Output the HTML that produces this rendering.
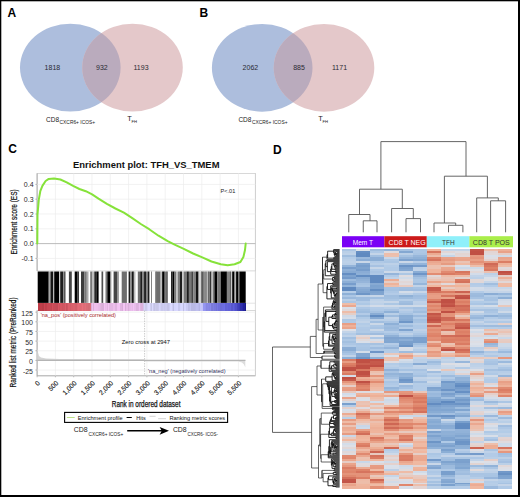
<!DOCTYPE html>
<html><head><meta charset="utf-8"><style>
html,body{margin:0;padding:0;background:#fff;}
body{width:520px;height:497px;overflow:hidden;}
svg{display:block;}
text{font-family:"Liberation Sans", sans-serif;}
</style></head><body>
<svg width="520" height="497" viewBox="0 0 520 497">
<rect x="0" y="0" width="520" height="497" fill="#fff"/>
<defs><clipPath id="cba"><ellipse cx="70.3" cy="67.6" rx="50.3" ry="43.9"/></clipPath></defs>
<ellipse cx="70.3" cy="67.6" rx="50.3" ry="43.9" fill="#adbedd"/>
<ellipse cx="132.5" cy="67.6" rx="50.3" ry="43.9" fill="#e4c8ca"/>
<ellipse cx="132.5" cy="67.6" rx="50.3" ry="43.9" fill="#baabbd" clip-path="url(#cba)"/>
<text x="52.4" y="70.1" font-size="7" text-anchor="middle" font-weight="normal" fill="#2a2a33">1818</text>
<text x="101.9" y="70.1" font-size="7" text-anchor="middle" font-weight="normal" fill="#2a2a33">932</text>
<text x="141" y="70.1" font-size="7" text-anchor="middle" font-weight="normal" fill="#2a2a33">1193</text>
<defs><clipPath id="cbb"><ellipse cx="262.2" cy="67.8" rx="50.3" ry="43.9"/></clipPath></defs>
<ellipse cx="262.2" cy="67.8" rx="50.3" ry="43.9" fill="#adbedd"/>
<ellipse cx="324" cy="67.8" rx="50.3" ry="43.9" fill="#e4c8ca"/>
<ellipse cx="324" cy="67.8" rx="50.3" ry="43.9" fill="#baabbd" clip-path="url(#cbb)"/>
<text x="250.4" y="70.3" font-size="7" text-anchor="middle" font-weight="normal" fill="#2a2a33">2062</text>
<text x="299" y="70.3" font-size="7" text-anchor="middle" font-weight="normal" fill="#2a2a33">885</text>
<text x="339.5" y="70.3" font-size="7" text-anchor="middle" font-weight="normal" fill="#2a2a33">1171</text>
<text x="46" y="121.6" font-size="7.4" text-anchor="start" font-weight="normal" fill="#222" textLength="13" lengthAdjust="spacingAndGlyphs">CD8</text>
<text x="59.6" y="123.6" font-size="4.6" text-anchor="start" font-weight="normal" fill="#222" textLength="35.5" lengthAdjust="spacingAndGlyphs">CXCR6+ ICOS+</text>
<text x="127.2" y="121" font-size="7.4" text-anchor="start" font-weight="normal" fill="#222">T</text>
<text x="131.5" y="123.2" font-size="4.2" text-anchor="start" font-weight="normal" fill="#222">FH</text>
<text x="238.4" y="121.8" font-size="7.4" text-anchor="start" font-weight="normal" fill="#222" textLength="13" lengthAdjust="spacingAndGlyphs">CD8</text>
<text x="252.0" y="123.8" font-size="4.6" text-anchor="start" font-weight="normal" fill="#222" textLength="35.5" lengthAdjust="spacingAndGlyphs">CXCR6+ ICOS+</text>
<text x="318.2" y="121.2" font-size="7.4" text-anchor="start" font-weight="normal" fill="#222">T</text>
<text x="322.5" y="123.4" font-size="4.2" text-anchor="start" font-weight="normal" fill="#222">FH</text>
<text x="7.6" y="17.3" font-size="12" text-anchor="start" font-weight="bold" fill="#000">A</text>
<text x="199.4" y="17.3" font-size="12" text-anchor="start" font-weight="bold" fill="#000">B</text>
<text x="8.2" y="153.3" font-size="12" text-anchor="start" font-weight="bold" fill="#000">C</text>
<text x="273" y="153.8" font-size="12" text-anchor="start" font-weight="bold" fill="#000">D</text>
<rect x="37.1" y="173.4" width="218.3" height="97.49999999999997" fill="none" stroke="#cfcfcf" stroke-width="0.8"/>
<rect x="37.1" y="310.5" width="218.3" height="65.30000000000001" fill="none" stroke="#cfcfcf" stroke-width="0.8"/>
<line x1="37.1" y1="173.4" x2="37.1" y2="270.9" stroke="#a0a0a0" stroke-width="0.8"/>
<line x1="37.1" y1="310.5" x2="37.1" y2="375.8" stroke="#a0a0a0" stroke-width="0.8"/>
<line x1="37.1" y1="375.8" x2="255.4" y2="375.8" stroke="#a8a8a8" stroke-width="0.8"/>
<line x1="255.4" y1="173.4" x2="255.4" y2="375.8" stroke="#cfcfcf" stroke-width="0.8"/>
<line x1="245.7" y1="303.2" x2="255.4" y2="303.2" stroke="#d8d8d8" stroke-width="0.7"/>
<line x1="55.40" y1="173.4" x2="55.40" y2="270.9" stroke="#ececec" stroke-width="0.7"/>
<line x1="55.40" y1="310.5" x2="55.40" y2="375.8" stroke="#ececec" stroke-width="0.7"/>
<line x1="73.70" y1="173.4" x2="73.70" y2="270.9" stroke="#ececec" stroke-width="0.7"/>
<line x1="73.70" y1="310.5" x2="73.70" y2="375.8" stroke="#ececec" stroke-width="0.7"/>
<line x1="92.00" y1="173.4" x2="92.00" y2="270.9" stroke="#ececec" stroke-width="0.7"/>
<line x1="92.00" y1="310.5" x2="92.00" y2="375.8" stroke="#ececec" stroke-width="0.7"/>
<line x1="110.30" y1="173.4" x2="110.30" y2="270.9" stroke="#ececec" stroke-width="0.7"/>
<line x1="110.30" y1="310.5" x2="110.30" y2="375.8" stroke="#ececec" stroke-width="0.7"/>
<line x1="128.60" y1="173.4" x2="128.60" y2="270.9" stroke="#ececec" stroke-width="0.7"/>
<line x1="128.60" y1="310.5" x2="128.60" y2="375.8" stroke="#ececec" stroke-width="0.7"/>
<line x1="146.90" y1="173.4" x2="146.90" y2="270.9" stroke="#ececec" stroke-width="0.7"/>
<line x1="146.90" y1="310.5" x2="146.90" y2="375.8" stroke="#ececec" stroke-width="0.7"/>
<line x1="165.20" y1="173.4" x2="165.20" y2="270.9" stroke="#ececec" stroke-width="0.7"/>
<line x1="165.20" y1="310.5" x2="165.20" y2="375.8" stroke="#ececec" stroke-width="0.7"/>
<line x1="183.50" y1="173.4" x2="183.50" y2="270.9" stroke="#ececec" stroke-width="0.7"/>
<line x1="183.50" y1="310.5" x2="183.50" y2="375.8" stroke="#ececec" stroke-width="0.7"/>
<line x1="201.80" y1="173.4" x2="201.80" y2="270.9" stroke="#ececec" stroke-width="0.7"/>
<line x1="201.80" y1="310.5" x2="201.80" y2="375.8" stroke="#ececec" stroke-width="0.7"/>
<line x1="220.10" y1="173.4" x2="220.10" y2="270.9" stroke="#ececec" stroke-width="0.7"/>
<line x1="220.10" y1="310.5" x2="220.10" y2="375.8" stroke="#ececec" stroke-width="0.7"/>
<line x1="238.40" y1="173.4" x2="238.40" y2="270.9" stroke="#ececec" stroke-width="0.7"/>
<line x1="238.40" y1="310.5" x2="238.40" y2="375.8" stroke="#ececec" stroke-width="0.7"/>
<line x1="37.1" y1="184.40" x2="255.4" y2="184.40" stroke="#ececec" stroke-width="0.7"/>
<line x1="37.1" y1="199.20" x2="255.4" y2="199.20" stroke="#ececec" stroke-width="0.7"/>
<line x1="37.1" y1="214.00" x2="255.4" y2="214.00" stroke="#ececec" stroke-width="0.7"/>
<line x1="37.1" y1="228.80" x2="255.4" y2="228.80" stroke="#ececec" stroke-width="0.7"/>
<line x1="37.1" y1="258.40" x2="255.4" y2="258.40" stroke="#ececec" stroke-width="0.7"/>
<line x1="37.1" y1="243.6" x2="255.4" y2="243.6" stroke="#b4b4b4" stroke-width="0.9"/>
<text x="33.6" y="186.89999999999998" font-size="7.0" text-anchor="end" font-weight="normal" fill="#2a2a2a">0.4</text>
<line x1="35.3" y1="184.40" x2="37.1" y2="184.40" stroke="#999" stroke-width="0.6"/>
<text x="33.6" y="201.7" font-size="7.0" text-anchor="end" font-weight="normal" fill="#2a2a2a">0.3</text>
<line x1="35.3" y1="199.20" x2="37.1" y2="199.20" stroke="#999" stroke-width="0.6"/>
<text x="33.6" y="216.5" font-size="7.0" text-anchor="end" font-weight="normal" fill="#2a2a2a">0.2</text>
<line x1="35.3" y1="214.00" x2="37.1" y2="214.00" stroke="#999" stroke-width="0.6"/>
<text x="33.6" y="231.29999999999998" font-size="7.0" text-anchor="end" font-weight="normal" fill="#2a2a2a">0.1</text>
<line x1="35.3" y1="228.80" x2="37.1" y2="228.80" stroke="#999" stroke-width="0.6"/>
<text x="33.6" y="246.1" font-size="7.0" text-anchor="end" font-weight="normal" fill="#2a2a2a">0.0</text>
<line x1="35.3" y1="243.60" x2="37.1" y2="243.60" stroke="#999" stroke-width="0.6"/>
<text x="33.6" y="260.9" font-size="7.0" text-anchor="end" font-weight="normal" fill="#2a2a2a">-0.1</text>
<line x1="35.3" y1="258.40" x2="37.1" y2="258.40" stroke="#999" stroke-width="0.6"/>
<line x1="37.1" y1="312.15" x2="255.4" y2="312.15" stroke="#ececec" stroke-width="0.7"/>
<line x1="37.1" y1="321.80" x2="255.4" y2="321.80" stroke="#ececec" stroke-width="0.7"/>
<line x1="37.1" y1="331.45" x2="255.4" y2="331.45" stroke="#ececec" stroke-width="0.7"/>
<line x1="37.1" y1="341.10" x2="255.4" y2="341.10" stroke="#ececec" stroke-width="0.7"/>
<line x1="37.1" y1="350.75" x2="255.4" y2="350.75" stroke="#ececec" stroke-width="0.7"/>
<line x1="37.1" y1="370.05" x2="255.4" y2="370.05" stroke="#ececec" stroke-width="0.7"/>
<text x="33.0" y="315.75" font-size="7.0" text-anchor="end" font-weight="normal" fill="#2a2a2a">125</text>
<line x1="35.3" y1="312.15" x2="37.1" y2="312.15" stroke="#999" stroke-width="0.6"/>
<text x="33.0" y="325.4" font-size="7.0" text-anchor="end" font-weight="normal" fill="#2a2a2a">100</text>
<line x1="35.3" y1="321.80" x2="37.1" y2="321.80" stroke="#999" stroke-width="0.6"/>
<text x="33.0" y="335.05" font-size="7.0" text-anchor="end" font-weight="normal" fill="#2a2a2a">75</text>
<line x1="35.3" y1="331.45" x2="37.1" y2="331.45" stroke="#999" stroke-width="0.6"/>
<text x="33.0" y="344.7" font-size="7.0" text-anchor="end" font-weight="normal" fill="#2a2a2a">50</text>
<line x1="35.3" y1="341.10" x2="37.1" y2="341.10" stroke="#999" stroke-width="0.6"/>
<text x="33.0" y="354.35" font-size="7.0" text-anchor="end" font-weight="normal" fill="#2a2a2a">25</text>
<line x1="35.3" y1="350.75" x2="37.1" y2="350.75" stroke="#999" stroke-width="0.6"/>
<text x="33.0" y="364.0" font-size="7.0" text-anchor="end" font-weight="normal" fill="#2a2a2a">0</text>
<line x1="35.3" y1="360.40" x2="37.1" y2="360.40" stroke="#999" stroke-width="0.6"/>
<text x="33.0" y="373.65" font-size="7.0" text-anchor="end" font-weight="normal" fill="#2a2a2a">-25</text>
<line x1="35.3" y1="370.05" x2="37.1" y2="370.05" stroke="#999" stroke-width="0.6"/>
<path d="M37.3,243.6 L37.5,214.4 L38.8,199.6 L40.3,191.2 L42.4,185.9 L45.6,181 L48.75,178.9 L54,178.5 L60.4,179.5 L66.7,182.3 L73.1,185.9 L79.4,189 L85.8,191.2 L92.1,194.3 L98.5,198.6 L106.9,203.8 L115.4,208.5 L123.9,212.7 L132.3,218.2 L140.8,224 L149.2,229.2 L158.5,235.7 L167.7,241.2 L174.6,244.7 L183.8,248.8 L193.1,253.5 L202.3,257.4 L211.5,261.5 L220.8,264.3 L227.7,265.2 L234.6,264.3 L240.4,262 L243.4,257 L245,250 L245.7,243.5" fill="none" stroke="#86e23a" stroke-width="2.0" stroke-linejoin="round" stroke-linecap="round"/>
<text x="235.3" y="193.0" font-size="5.6" text-anchor="end" font-weight="normal" fill="#222" textLength="14.8" lengthAdjust="spacingAndGlyphs">P&lt;.01</text>
<text x="73" y="168" font-size="9.5" text-anchor="start" font-weight="bold" fill="#111" textLength="146.5" lengthAdjust="spacingAndGlyphs">Enrichment plot: TFH_VS_TMEM</text>
<text x="16.8" y="221.9" font-size="8.2" text-anchor="middle" font-weight="normal" fill="#111" textLength="65" lengthAdjust="spacingAndGlyphs" transform="rotate(-90 16.8 221.9)" stroke="#111" stroke-width="0.2">Enrichment score (ES)</text>
<text x="16.4" y="342.4" font-size="8.2" text-anchor="middle" font-weight="normal" fill="#111" textLength="90" lengthAdjust="spacingAndGlyphs" transform="rotate(-90 16.4 342.4)" stroke="#111" stroke-width="0.2">Ranked list metric (PreRanked)</text>
<text x="40.5" y="383.6" font-size="6.7" text-anchor="end" font-weight="normal" fill="#1a1a1a" transform="rotate(-45 40.5 383.6)" stroke="#1a1a1a" stroke-width="0.15">0</text>
<line x1="37.10" y1="375.8" x2="37.10" y2="377.3" stroke="#999" stroke-width="0.6"/>
<text x="58.8" y="383.6" font-size="6.7" text-anchor="end" font-weight="normal" fill="#1a1a1a" transform="rotate(-45 58.8 383.6)" stroke="#1a1a1a" stroke-width="0.15">500</text>
<line x1="55.40" y1="375.8" x2="55.40" y2="377.3" stroke="#999" stroke-width="0.6"/>
<text x="77.1" y="383.6" font-size="6.7" text-anchor="end" font-weight="normal" fill="#1a1a1a" transform="rotate(-45 77.1 383.6)" stroke="#1a1a1a" stroke-width="0.15">1,000</text>
<line x1="73.70" y1="375.8" x2="73.70" y2="377.3" stroke="#999" stroke-width="0.6"/>
<text x="95.4" y="383.6" font-size="6.7" text-anchor="end" font-weight="normal" fill="#1a1a1a" transform="rotate(-45 95.4 383.6)" stroke="#1a1a1a" stroke-width="0.15">1,500</text>
<line x1="92.00" y1="375.8" x2="92.00" y2="377.3" stroke="#999" stroke-width="0.6"/>
<text x="113.7" y="383.6" font-size="6.7" text-anchor="end" font-weight="normal" fill="#1a1a1a" transform="rotate(-45 113.7 383.6)" stroke="#1a1a1a" stroke-width="0.15">2,000</text>
<line x1="110.30" y1="375.8" x2="110.30" y2="377.3" stroke="#999" stroke-width="0.6"/>
<text x="132.0" y="383.6" font-size="6.7" text-anchor="end" font-weight="normal" fill="#1a1a1a" transform="rotate(-45 132.0 383.6)" stroke="#1a1a1a" stroke-width="0.15">2,500</text>
<line x1="128.60" y1="375.8" x2="128.60" y2="377.3" stroke="#999" stroke-width="0.6"/>
<text x="150.3" y="383.6" font-size="6.7" text-anchor="end" font-weight="normal" fill="#1a1a1a" transform="rotate(-45 150.3 383.6)" stroke="#1a1a1a" stroke-width="0.15">3,000</text>
<line x1="146.90" y1="375.8" x2="146.90" y2="377.3" stroke="#999" stroke-width="0.6"/>
<text x="168.6" y="383.6" font-size="6.7" text-anchor="end" font-weight="normal" fill="#1a1a1a" transform="rotate(-45 168.6 383.6)" stroke="#1a1a1a" stroke-width="0.15">3,500</text>
<line x1="165.20" y1="375.8" x2="165.20" y2="377.3" stroke="#999" stroke-width="0.6"/>
<text x="186.9" y="383.6" font-size="6.7" text-anchor="end" font-weight="normal" fill="#1a1a1a" transform="rotate(-45 186.9 383.6)" stroke="#1a1a1a" stroke-width="0.15">4,000</text>
<line x1="183.50" y1="375.8" x2="183.50" y2="377.3" stroke="#999" stroke-width="0.6"/>
<text x="205.2" y="383.6" font-size="6.7" text-anchor="end" font-weight="normal" fill="#1a1a1a" transform="rotate(-45 205.2 383.6)" stroke="#1a1a1a" stroke-width="0.15">4,500</text>
<line x1="201.80" y1="375.8" x2="201.80" y2="377.3" stroke="#999" stroke-width="0.6"/>
<text x="223.5" y="383.6" font-size="6.7" text-anchor="end" font-weight="normal" fill="#1a1a1a" transform="rotate(-45 223.5 383.6)" stroke="#1a1a1a" stroke-width="0.15">5,000</text>
<line x1="220.10" y1="375.8" x2="220.10" y2="377.3" stroke="#999" stroke-width="0.6"/>
<text x="241.8" y="383.6" font-size="6.7" text-anchor="end" font-weight="normal" fill="#1a1a1a" transform="rotate(-45 241.8 383.6)" stroke="#1a1a1a" stroke-width="0.15">5,500</text>
<line x1="238.40" y1="375.8" x2="238.40" y2="377.3" stroke="#999" stroke-width="0.6"/>
<text x="146.1" y="407.1" font-size="8.6" text-anchor="middle" font-weight="normal" fill="#111" textLength="68.7" lengthAdjust="spacingAndGlyphs" stroke="#111" stroke-width="0.25">Rank in ordered dataset</text>
<rect x="37.7" y="271.5" width="11.00" height="31.40" fill="rgb(0,0,0)"/>
<rect x="48.7" y="271.5" width="1.10" height="31.40" fill="rgb(130,130,130)"/>
<rect x="49.8" y="271.5" width="0.60" height="31.40" fill="rgb(220,220,220)"/>
<rect x="50.4" y="271.5" width="2.90" height="31.40" fill="rgb(20,20,20)"/>
<rect x="54.2" y="271.5" width="4.90" height="31.40" fill="rgb(0,0,0)"/>
<rect x="59.1" y="271.5" width="1.10" height="31.40" fill="rgb(200,200,200)"/>
<rect x="60.2" y="271.5" width="2.90" height="31.40" fill="rgb(30,30,30)"/>
<rect x="63.1" y="271.5" width="1.20" height="31.40" fill="rgb(130,130,130)"/>
<rect x="64.3" y="271.5" width="1.10" height="31.40" fill="rgb(30,30,30)"/>
<rect x="68.9" y="271.5" width="2.90" height="31.40" fill="rgb(70,70,70)"/>
<rect x="74.7" y="271.5" width="2.80" height="31.40" fill="rgb(0,0,0)"/>
<rect x="77.5" y="271.5" width="1.40" height="31.40" fill="rgb(40,40,40)"/>
<rect x="81" y="271.5" width="3.50" height="31.40" fill="rgb(60,60,60)"/>
<rect x="84.5" y="271.5" width="2.30" height="31.40" fill="rgb(120,120,120)"/>
<rect x="86.8" y="271.5" width="1.70" height="31.40" fill="rgb(170,170,170)"/>
<rect x="90.2" y="271.5" width="2.30" height="31.40" fill="rgb(120,120,120)"/>
<rect x="92.5" y="271.5" width="1.80" height="31.40" fill="rgb(190,190,190)"/>
<rect x="94.3" y="271.5" width="2.60" height="31.40" fill="rgb(40,40,40)"/>
<rect x="96.9" y="271.5" width="1.70" height="31.40" fill="rgb(0,0,0)"/>
<rect x="101.5" y="271.5" width="1.70" height="31.40" fill="rgb(80,80,80)"/>
<rect x="105.5" y="271.5" width="1.80" height="31.40" fill="rgb(120,120,120)"/>
<rect x="107.3" y="271.5" width="2.90" height="31.40" fill="rgb(0,0,0)"/>
<rect x="110.2" y="271.5" width="1.10" height="31.40" fill="rgb(130,130,130)"/>
<rect x="113.6" y="271.5" width="3.50" height="31.40" fill="rgb(70,70,70)"/>
<rect x="117.1" y="271.5" width="1.70" height="31.40" fill="rgb(140,140,140)"/>
<rect x="121.7" y="271.5" width="5.20" height="31.40" fill="rgb(110,110,110)"/>
<rect x="128.6" y="271.5" width="1.70" height="31.40" fill="rgb(30,30,30)"/>
<rect x="130.3" y="271.5" width="1.80" height="31.40" fill="rgb(130,130,130)"/>
<rect x="132.1" y="271.5" width="1.70" height="31.40" fill="rgb(0,0,0)"/>
<rect x="133.8" y="271.5" width="1.70" height="31.40" fill="rgb(190,190,190)"/>
<rect x="137.8" y="271.5" width="2.40" height="31.40" fill="rgb(110,110,110)"/>
<rect x="140.2" y="271.5" width="2.30" height="31.40" fill="rgb(30,30,30)"/>
<rect x="142.5" y="271.5" width="1.70" height="31.40" fill="rgb(130,130,130)"/>
<rect x="144.2" y="271.5" width="1.70" height="31.40" fill="rgb(0,0,0)"/>
<rect x="145.9" y="271.5" width="1.80" height="31.40" fill="rgb(130,130,130)"/>
<rect x="147.7" y="271.5" width="1.70" height="31.40" fill="rgb(30,30,30)"/>
<rect x="151.1" y="271.5" width="0.90" height="31.40" fill="rgb(120,120,120)"/>
<rect x="155.5" y="271.5" width="1.10" height="31.40" fill="rgb(30,30,30)"/>
<rect x="156.6" y="271.5" width="4.10" height="31.40" fill="rgb(110,110,110)"/>
<rect x="160.7" y="271.5" width="1.10" height="31.40" fill="rgb(220,220,220)"/>
<rect x="161.8" y="271.5" width="1.20" height="31.40" fill="rgb(40,40,40)"/>
<rect x="163" y="271.5" width="1.70" height="31.40" fill="rgb(0,0,0)"/>
<rect x="164.7" y="271.5" width="1.70" height="31.40" fill="rgb(120,120,120)"/>
<rect x="166.4" y="271.5" width="1.20" height="31.40" fill="rgb(40,40,40)"/>
<rect x="171" y="271.5" width="1.80" height="31.40" fill="rgb(40,40,40)"/>
<rect x="172.8" y="271.5" width="1.70" height="31.40" fill="rgb(0,0,0)"/>
<rect x="174.5" y="271.5" width="1.70" height="31.40" fill="rgb(120,120,120)"/>
<rect x="176.2" y="271.5" width="1.80" height="31.40" fill="rgb(190,190,190)"/>
<rect x="178" y="271.5" width="1.70" height="31.40" fill="rgb(120,120,120)"/>
<rect x="179.7" y="271.5" width="2.30" height="31.40" fill="rgb(30,30,30)"/>
<rect x="182" y="271.5" width="1.70" height="31.40" fill="rgb(200,200,200)"/>
<rect x="183.7" y="271.5" width="2.90" height="31.40" fill="rgb(120,120,120)"/>
<rect x="186.6" y="271.5" width="2.30" height="31.40" fill="rgb(30,30,30)"/>
<rect x="188.9" y="271.5" width="2.30" height="31.40" fill="rgb(120,120,120)"/>
<rect x="191.2" y="271.5" width="2.30" height="31.40" fill="rgb(70,70,70)"/>
<rect x="193.5" y="271.5" width="2.30" height="31.40" fill="rgb(130,130,130)"/>
<rect x="195.8" y="271.5" width="2.40" height="31.40" fill="rgb(20,20,20)"/>
<rect x="198.2" y="271.5" width="1.10" height="31.40" fill="rgb(130,130,130)"/>
<rect x="199.3" y="271.5" width="1.70" height="31.40" fill="rgb(210,210,210)"/>
<rect x="201" y="271.5" width="0.40" height="31.40" fill="rgb(0,0,0)"/>
<rect x="201.4" y="271.5" width="2.40" height="31.40" fill="rgb(90,90,90)"/>
<rect x="203.8" y="271.5" width="2.00" height="31.40" fill="rgb(140,140,140)"/>
<rect x="205.8" y="271.5" width="0.70" height="31.40" fill="rgb(30,30,30)"/>
<rect x="207.7" y="271.5" width="1.00" height="31.40" fill="rgb(30,30,30)"/>
<rect x="208.7" y="271.5" width="1.40" height="31.40" fill="rgb(120,120,120)"/>
<rect x="210.1" y="271.5" width="1.40" height="31.40" fill="rgb(30,30,30)"/>
<rect x="211.5" y="271.5" width="1.50" height="31.40" fill="rgb(190,190,190)"/>
<rect x="213" y="271.5" width="1.40" height="31.40" fill="rgb(120,120,120)"/>
<rect x="214.4" y="271.5" width="2.90" height="31.40" fill="rgb(0,0,0)"/>
<rect x="217.3" y="271.5" width="3.40" height="31.40" fill="rgb(120,120,120)"/>
<rect x="220.7" y="271.5" width="6.20" height="31.40" fill="rgb(0,0,0)"/>
<rect x="226.9" y="271.5" width="2.90" height="31.40" fill="rgb(130,130,130)"/>
<rect x="229.8" y="271.5" width="1.00" height="31.40" fill="rgb(30,30,30)"/>
<rect x="230.8" y="271.5" width="1.40" height="31.40" fill="rgb(200,200,200)"/>
<rect x="232.2" y="271.5" width="2.40" height="31.40" fill="rgb(0,0,0)"/>
<rect x="234.6" y="271.5" width="1.50" height="31.40" fill="rgb(180,180,180)"/>
<rect x="236.1" y="271.5" width="1.90" height="31.40" fill="rgb(0,0,0)"/>
<rect x="238" y="271.5" width="1.40" height="31.40" fill="rgb(120,120,120)"/>
<rect x="239.4" y="271.5" width="6.30" height="31.40" fill="rgb(0,0,0)"/>
<g shape-rendering="crispEdges"><rect x="37.70" y="302.9" width="1.05" height="7.60" fill="rgb(192,60,72)"/><rect x="38.70" y="302.9" width="1.05" height="7.60" fill="rgb(188,60,71)"/><rect x="39.70" y="302.9" width="2.05" height="7.60" fill="rgb(192,62,74)"/><rect x="41.70" y="302.9" width="2.05" height="7.60" fill="rgb(184,61,72)"/><rect x="43.70" y="302.9" width="0.85" height="7.60" fill="rgb(205,69,82)"/><rect x="44.50" y="302.9" width="1.55" height="7.60" fill="rgb(191,65,77)"/><rect x="46.00" y="302.9" width="1.05" height="7.60" fill="rgb(191,66,78)"/><rect x="47.00" y="302.9" width="1.55" height="7.60" fill="rgb(200,71,83)"/><rect x="48.50" y="302.9" width="2.05" height="7.60" fill="rgb(200,72,84)"/><rect x="50.50" y="302.9" width="1.05" height="7.60" fill="rgb(195,71,83)"/><rect x="51.50" y="302.9" width="1.05" height="7.60" fill="rgb(212,78,91)"/><rect x="52.50" y="302.9" width="2.05" height="7.60" fill="rgb(201,75,87)"/><rect x="54.50" y="302.9" width="0.85" height="7.60" fill="rgb(209,79,91)"/><rect x="55.30" y="302.9" width="0.85" height="7.60" fill="rgb(196,75,87)"/><rect x="56.10" y="302.9" width="2.05" height="7.60" fill="rgb(194,75,87)"/><rect x="58.10" y="302.9" width="0.85" height="7.60" fill="rgb(215,84,97)"/><rect x="58.90" y="302.9" width="1.25" height="7.60" fill="rgb(206,82,94)"/><rect x="60.10" y="302.9" width="1.55" height="7.60" fill="rgb(213,86,98)"/><rect x="61.60" y="302.9" width="1.55" height="7.60" fill="rgb(206,84,96)"/><rect x="63.10" y="302.9" width="2.05" height="7.60" fill="rgb(208,86,98)"/><rect x="65.10" y="302.9" width="1.05" height="7.60" fill="rgb(220,92,105)"/><rect x="66.10" y="302.9" width="0.85" height="7.60" fill="rgb(199,84,95)"/><rect x="66.90" y="302.9" width="1.55" height="7.60" fill="rgb(205,87,99)"/><rect x="68.40" y="302.9" width="1.55" height="7.60" fill="rgb(220,95,107)"/><rect x="69.90" y="302.9" width="1.25" height="7.60" fill="rgb(212,92,104)"/><rect x="71.10" y="302.9" width="1.55" height="7.60" fill="rgb(216,96,107)"/><rect x="72.60" y="302.9" width="2.05" height="7.60" fill="rgb(218,98,109)"/><rect x="74.60" y="302.9" width="2.05" height="7.60" fill="rgb(210,96,107)"/><rect x="76.60" y="302.9" width="1.25" height="7.60" fill="rgb(222,103,115)"/><rect x="77.80" y="302.9" width="0.85" height="7.60" fill="rgb(228,106,118)"/><rect x="78.60" y="302.9" width="2.05" height="7.60" fill="rgb(223,106,117)"/><rect x="80.60" y="302.9" width="1.05" height="7.60" fill="rgb(225,108,119)"/><rect x="81.60" y="302.9" width="1.25" height="7.60" fill="rgb(233,113,124)"/><rect x="82.80" y="302.9" width="2.05" height="7.60" fill="rgb(223,109,120)"/><rect x="84.80" y="302.9" width="1.05" height="7.60" fill="rgb(226,112,123)"/><rect x="85.80" y="302.9" width="2.05" height="7.60" fill="rgb(217,109,119)"/><rect x="87.80" y="302.9" width="0.85" height="7.60" fill="rgb(212,108,117)"/><rect x="88.60" y="302.9" width="1.55" height="7.60" fill="rgb(213,109,119)"/><rect x="90.10" y="302.9" width="0.85" height="7.60" fill="rgb(223,115,125)"/><rect x="90.90" y="302.9" width="1.05" height="7.60" fill="rgb(220,175,216)"/><rect x="91.90" y="302.9" width="1.55" height="7.60" fill="rgb(241,192,237)"/><rect x="93.40" y="302.9" width="0.85" height="7.60" fill="rgb(220,175,217)"/><rect x="94.20" y="302.9" width="2.05" height="7.60" fill="rgb(240,192,237)"/><rect x="96.20" y="302.9" width="1.55" height="7.60" fill="rgb(239,191,235)"/><rect x="97.70" y="302.9" width="1.25" height="7.60" fill="rgb(234,187,231)"/><rect x="98.90" y="302.9" width="1.25" height="7.60" fill="rgb(233,186,230)"/><rect x="100.10" y="302.9" width="0.85" height="7.60" fill="rgb(227,181,224)"/><rect x="100.90" y="302.9" width="0.85" height="7.60" fill="rgb(221,177,219)"/><rect x="101.70" y="302.9" width="2.05" height="7.60" fill="rgb(219,175,217)"/><rect x="103.70" y="302.9" width="1.05" height="7.60" fill="rgb(245,196,243)"/><rect x="104.70" y="302.9" width="1.25" height="7.60" fill="rgb(235,188,233)"/><rect x="105.90" y="302.9" width="1.05" height="7.60" fill="rgb(237,190,235)"/><rect x="106.90" y="302.9" width="1.25" height="7.60" fill="rgb(227,181,225)"/><rect x="108.10" y="302.9" width="1.05" height="7.60" fill="rgb(243,195,241)"/><rect x="109.10" y="302.9" width="1.55" height="7.60" fill="rgb(228,183,226)"/><rect x="110.60" y="302.9" width="2.05" height="7.60" fill="rgb(228,183,227)"/><rect x="112.60" y="302.9" width="2.05" height="7.60" fill="rgb(237,190,235)"/><rect x="114.60" y="302.9" width="0.85" height="7.60" fill="rgb(235,188,233)"/><rect x="115.40" y="302.9" width="2.05" height="7.60" fill="rgb(225,180,224)"/><rect x="117.40" y="302.9" width="1.05" height="7.60" fill="rgb(243,195,242)"/><rect x="118.40" y="302.9" width="1.55" height="7.60" fill="rgb(244,196,244)"/><rect x="119.90" y="302.9" width="2.05" height="7.60" fill="rgb(225,181,225)"/><rect x="121.90" y="302.9" width="1.25" height="7.60" fill="rgb(217,175,217)"/><rect x="123.10" y="302.9" width="1.55" height="7.60" fill="rgb(244,197,244)"/><rect x="124.60" y="302.9" width="1.25" height="7.60" fill="rgb(217,175,217)"/><rect x="125.80" y="302.9" width="2.05" height="7.60" fill="rgb(233,188,233)"/><rect x="127.80" y="302.9" width="1.05" height="7.60" fill="rgb(218,176,218)"/><rect x="128.80" y="302.9" width="1.25" height="7.60" fill="rgb(229,185,230)"/><rect x="130.00" y="302.9" width="1.25" height="7.60" fill="rgb(233,188,234)"/><rect x="131.20" y="302.9" width="1.25" height="7.60" fill="rgb(237,191,237)"/><rect x="132.40" y="302.9" width="0.85" height="7.60" fill="rgb(232,188,233)"/><rect x="133.20" y="302.9" width="0.85" height="7.60" fill="rgb(243,196,244)"/><rect x="134.00" y="302.9" width="1.25" height="7.60" fill="rgb(233,189,234)"/><rect x="135.20" y="302.9" width="1.25" height="7.60" fill="rgb(232,188,233)"/><rect x="136.40" y="302.9" width="1.25" height="7.60" fill="rgb(221,178,222)"/><rect x="137.60" y="302.9" width="1.05" height="7.60" fill="rgb(224,181,226)"/><rect x="138.60" y="302.9" width="1.25" height="7.60" fill="rgb(239,193,241)"/><rect x="139.80" y="302.9" width="1.25" height="7.60" fill="rgb(224,181,225)"/><rect x="141.00" y="302.9" width="1.55" height="7.60" fill="rgb(218,177,220)"/><rect x="142.50" y="302.9" width="0.85" height="7.60" fill="rgb(242,196,244)"/><rect x="143.30" y="302.9" width="1.05" height="7.60" fill="rgb(213,195,233)"/><rect x="144.30" y="302.9" width="1.05" height="7.60" fill="rgb(215,213,248)"/><rect x="145.30" y="302.9" width="1.25" height="7.60" fill="rgb(204,202,235)"/><rect x="146.50" y="302.9" width="1.05" height="7.60" fill="rgb(215,213,248)"/><rect x="147.50" y="302.9" width="0.85" height="7.60" fill="rgb(200,199,231)"/><rect x="148.30" y="302.9" width="1.25" height="7.60" fill="rgb(222,220,255)"/><rect x="149.50" y="302.9" width="1.05" height="7.60" fill="rgb(208,207,241)"/><rect x="150.50" y="302.9" width="1.05" height="7.60" fill="rgb(199,198,230)"/><rect x="151.50" y="302.9" width="1.05" height="7.60" fill="rgb(219,218,254)"/><rect x="152.50" y="302.9" width="1.55" height="7.60" fill="rgb(204,202,236)"/><rect x="154.00" y="302.9" width="0.85" height="7.60" fill="rgb(197,196,229)"/><rect x="154.80" y="302.9" width="1.05" height="7.60" fill="rgb(204,203,237)"/><rect x="155.80" y="302.9" width="2.05" height="7.60" fill="rgb(201,199,233)"/><rect x="157.80" y="302.9" width="1.25" height="7.60" fill="rgb(204,203,238)"/><rect x="159.00" y="302.9" width="0.85" height="7.60" fill="rgb(216,214,252)"/><rect x="159.80" y="302.9" width="1.25" height="7.60" fill="rgb(210,209,245)"/><rect x="161.00" y="302.9" width="1.55" height="7.60" fill="rgb(202,201,236)"/><rect x="162.50" y="302.9" width="1.25" height="7.60" fill="rgb(206,205,242)"/><rect x="163.70" y="302.9" width="1.55" height="7.60" fill="rgb(202,201,236)"/><rect x="165.20" y="302.9" width="2.05" height="7.60" fill="rgb(204,203,240)"/><rect x="167.20" y="302.9" width="1.55" height="7.60" fill="rgb(198,197,232)"/><rect x="168.70" y="302.9" width="0.85" height="7.60" fill="rgb(205,205,242)"/><rect x="169.50" y="302.9" width="2.05" height="7.60" fill="rgb(218,217,255)"/><rect x="171.50" y="302.9" width="1.55" height="7.60" fill="rgb(207,206,244)"/><rect x="173.00" y="302.9" width="1.05" height="7.60" fill="rgb(193,193,229)"/><rect x="174.00" y="302.9" width="1.55" height="7.60" fill="rgb(213,213,252)"/><rect x="175.50" y="302.9" width="2.05" height="7.60" fill="rgb(216,215,255)"/><rect x="177.50" y="302.9" width="2.05" height="7.60" fill="rgb(200,200,238)"/><rect x="179.50" y="302.9" width="1.05" height="7.60" fill="rgb(212,212,253)"/><rect x="180.50" y="302.9" width="2.05" height="7.60" fill="rgb(215,215,255)"/><rect x="182.50" y="302.9" width="0.85" height="7.60" fill="rgb(211,210,251)"/><rect x="183.30" y="302.9" width="0.85" height="7.60" fill="rgb(191,191,228)"/><rect x="184.10" y="302.9" width="2.05" height="7.60" fill="rgb(213,213,254)"/><rect x="186.10" y="302.9" width="1.55" height="7.60" fill="rgb(203,203,244)"/><rect x="187.60" y="302.9" width="0.85" height="7.60" fill="rgb(199,199,241)"/><rect x="188.40" y="302.9" width="0.85" height="7.60" fill="rgb(191,191,232)"/><rect x="189.20" y="302.9" width="1.25" height="7.60" fill="rgb(192,192,234)"/><rect x="190.40" y="302.9" width="0.85" height="7.60" fill="rgb(198,198,242)"/><rect x="191.20" y="302.9" width="1.55" height="7.60" fill="rgb(185,185,228)"/><rect x="192.70" y="302.9" width="2.05" height="7.60" fill="rgb(185,185,229)"/><rect x="194.70" y="302.9" width="1.05" height="7.60" fill="rgb(187,187,233)"/><rect x="195.70" y="302.9" width="2.05" height="7.60" fill="rgb(191,191,239)"/><rect x="197.70" y="302.9" width="0.85" height="7.60" fill="rgb(187,187,235)"/><rect x="198.50" y="302.9" width="1.05" height="7.60" fill="rgb(181,181,229)"/><rect x="199.50" y="302.9" width="0.85" height="7.60" fill="rgb(181,181,230)"/><rect x="200.30" y="302.9" width="1.25" height="7.60" fill="rgb(197,197,252)"/><rect x="201.50" y="302.9" width="1.05" height="7.60" fill="rgb(194,194,248)"/><rect x="202.50" y="302.9" width="0.85" height="7.60" fill="rgb(167,167,235)"/><rect x="203.30" y="302.9" width="2.05" height="7.60" fill="rgb(150,150,241)"/><rect x="205.30" y="302.9" width="0.85" height="7.60" fill="rgb(145,145,238)"/><rect x="206.10" y="302.9" width="1.05" height="7.60" fill="rgb(135,135,224)"/><rect x="207.10" y="302.9" width="2.05" height="7.60" fill="rgb(136,136,230)"/><rect x="209.10" y="302.9" width="0.85" height="7.60" fill="rgb(133,133,228)"/><rect x="209.90" y="302.9" width="0.85" height="7.60" fill="rgb(137,137,238)"/><rect x="210.70" y="302.9" width="1.05" height="7.60" fill="rgb(123,123,216)"/><rect x="211.70" y="302.9" width="0.85" height="7.60" fill="rgb(121,121,216)"/><rect x="212.50" y="302.9" width="0.85" height="7.60" fill="rgb(132,132,237)"/><rect x="213.30" y="302.9" width="0.85" height="7.60" fill="rgb(125,125,227)"/><rect x="214.10" y="302.9" width="1.55" height="7.60" fill="rgb(120,120,221)"/><rect x="215.60" y="302.9" width="1.25" height="7.60" fill="rgb(114,114,214)"/><rect x="216.80" y="302.9" width="1.55" height="7.60" fill="rgb(119,119,229)"/><rect x="218.30" y="302.9" width="2.05" height="7.60" fill="rgb(111,111,219)"/><rect x="220.30" y="302.9" width="1.25" height="7.60" fill="rgb(107,107,215)"/><rect x="221.50" y="302.9" width="1.25" height="7.60" fill="rgb(109,109,220)"/><rect x="222.70" y="302.9" width="1.05" height="7.60" fill="rgb(109,109,223)"/><rect x="223.70" y="302.9" width="1.55" height="7.60" fill="rgb(110,110,229)"/><rect x="225.20" y="302.9" width="2.05" height="7.60" fill="rgb(99,99,211)"/><rect x="227.20" y="302.9" width="1.25" height="7.60" fill="rgb(100,100,217)"/><rect x="228.40" y="302.9" width="2.05" height="7.60" fill="rgb(96,96,214)"/><rect x="230.40" y="302.9" width="0.85" height="7.60" fill="rgb(97,97,220)"/><rect x="231.20" y="302.9" width="1.55" height="7.60" fill="rgb(88,88,204)"/><rect x="232.70" y="302.9" width="1.55" height="7.60" fill="rgb(94,94,221)"/><rect x="234.20" y="302.9" width="1.25" height="7.60" fill="rgb(88,88,211)"/><rect x="235.40" y="302.9" width="1.55" height="7.60" fill="rgb(80,80,203)"/><rect x="236.90" y="302.9" width="1.05" height="7.60" fill="rgb(69,69,188)"/><rect x="237.90" y="302.9" width="1.25" height="7.60" fill="rgb(64,64,190)"/><rect x="239.10" y="302.9" width="0.85" height="7.60" fill="rgb(58,58,184)"/><rect x="239.90" y="302.9" width="1.05" height="7.60" fill="rgb(50,50,170)"/><rect x="240.90" y="302.9" width="0.85" height="7.60" fill="rgb(49,49,175)"/><rect x="241.70" y="302.9" width="1.25" height="7.60" fill="rgb(44,44,170)"/><rect x="242.90" y="302.9" width="2.05" height="7.60" fill="rgb(36,36,157)"/><rect x="244.90" y="302.9" width="0.85" height="7.60" fill="rgb(28,28,138)"/></g>
<path d="M37.4,360.4 L37.4,346.0 L37.9,352 L39,356 L41,357.6 L46,358.4 L60,358.9 L144.5,359.3 L144.5,360.4 Z" fill="#d4d4d4"/>
<path d="M144.5,360.4 L144.5,361.4 L238,361.6 L242,362.5 L244,364.5 L245.3,367.5 L245.3,360.4 Z" fill="#dcdcdc"/>
<line x1="37.1" y1="360.4" x2="245.5" y2="360.4" stroke="#b4b4b4" stroke-width="1.4"/>
<line x1="144.6" y1="310.5" x2="144.6" y2="375.8" stroke="#b8b8b8" stroke-width="0.7" stroke-dasharray="1.5,1"/>
<text x="40.7" y="317.0" font-size="5.9" text-anchor="start" font-weight="normal" fill="#a82828" textLength="75.3" lengthAdjust="spacingAndGlyphs">'na_pos' (positively correlated)</text>
<text x="121.8" y="344.0" font-size="5.8" text-anchor="start" font-weight="normal" fill="#111" textLength="48.2" lengthAdjust="spacingAndGlyphs">Zero cross at 2947</text>
<text x="148" y="373.4" font-size="5.8" text-anchor="start" font-weight="normal" fill="#2e2e5c" textLength="77.5" lengthAdjust="spacingAndGlyphs">'na_neg' (negatively correlated)</text>
<rect x="64.6" y="412.4" width="163" height="10" fill="none" stroke="#000" stroke-width="1.1"/>
<line x1="66.9" y1="417.5" x2="74.7" y2="417.5" stroke="#b6e07a" stroke-width="0.9"/>
<text x="77.8" y="419.5" font-size="5.7" text-anchor="start" font-weight="normal" fill="#111" textLength="44.9" lengthAdjust="spacingAndGlyphs">Enrichment profile</text>
<line x1="126.6" y1="417.5" x2="131.8" y2="417.5" stroke="#000" stroke-width="1"/>
<text x="136.2" y="419.5" font-size="5.7" text-anchor="start" font-weight="normal" fill="#111" textLength="9.5" lengthAdjust="spacingAndGlyphs">Hits</text>
<line x1="149.5" y1="416.3" x2="155.6" y2="416.3" stroke="#c8c8c8" stroke-width="0.8"/>
<line x1="158.2" y1="418.7" x2="166" y2="418.7" stroke="#c8c8c8" stroke-width="0.8"/>
<text x="169.4" y="419.5" font-size="5.7" text-anchor="start" font-weight="normal" fill="#111" textLength="55.8" lengthAdjust="spacingAndGlyphs">Ranking metric scores</text>
<text x="73.8" y="432.3" font-size="7.0" text-anchor="start" font-weight="normal" fill="#222" textLength="13.9" lengthAdjust="spacingAndGlyphs">CD8</text>
<text x="88.6" y="435.8" font-size="4.6" text-anchor="start" font-weight="normal" fill="#222" textLength="34.6" lengthAdjust="spacingAndGlyphs">CXCR6+ ICOS+</text>
<line x1="127.2" y1="430.8" x2="163" y2="430.8" stroke="#000" stroke-width="1.6"/>
<path d="M159.6,427.0 L169.0,430.8 L159.6,434.7 L161.8,430.8 Z" fill="#000"/>
<text x="172.9" y="432.3" font-size="7.0" text-anchor="start" font-weight="normal" fill="#222" textLength="13.8" lengthAdjust="spacingAndGlyphs">CD8</text>
<text x="187.6" y="435.8" font-size="4.6" text-anchor="start" font-weight="normal" fill="#222" textLength="30.3" lengthAdjust="spacingAndGlyphs">CXCR6- ICOS-</text>
<path d="M380.9,189.2 V141.6 H466 V176.2" stroke="#555" stroke-width="0.9" fill="none"/>
<path d="M359.5,214.5 V189.2 H402.3 V208.5" stroke="#555" stroke-width="0.9" fill="none"/>
<path d="M348.75,232.3 V214.5 H370 V220.8" stroke="#555" stroke-width="0.9" fill="none"/>
<path d="M363.25,232.3 V220.8 H377 V232.3" stroke="#555" stroke-width="0.9" fill="none"/>
<path d="M391.6,232.3 V208.5 H413.3 V218.6" stroke="#555" stroke-width="0.9" fill="none"/>
<path d="M406,232.3 V218.6 H420.5 V232.3" stroke="#555" stroke-width="0.9" fill="none"/>
<path d="M444.4,223 V176.2 H487.4 V197.9" stroke="#555" stroke-width="0.9" fill="none"/>
<path d="M434,232.3 V223 H455.7 V225.3" stroke="#555" stroke-width="0.9" fill="none"/>
<path d="M448.5,232.3 V225.3 H462.9 V232.3" stroke="#555" stroke-width="0.9" fill="none"/>
<path d="M476.7,232.3 V197.9 H498.3 V200.8" stroke="#555" stroke-width="0.9" fill="none"/>
<path d="M490.6,232.3 V200.8 H505.6 V232.3" stroke="#555" stroke-width="0.9" fill="none"/>
<rect x="342.0" y="236.2" width="42.40" height="11.10" fill="#7a00f5"/>
<rect x="384.4" y="236.2" width="42.40" height="11.10" fill="#cc1a1a"/>
<rect x="426.8" y="236.2" width="42.60" height="11.10" fill="#8ff0fa"/>
<rect x="469.4" y="236.2" width="43.60" height="11.10" fill="#aaee4a"/>
<text x="362.9" y="245.3" font-size="6.8" text-anchor="middle" font-weight="normal" fill="#fff" textLength="20.4" lengthAdjust="spacingAndGlyphs">Mem T</text>
<text x="407.1" y="245.3" font-size="6.8" text-anchor="middle" font-weight="normal" fill="#fff" textLength="37.0" lengthAdjust="spacingAndGlyphs">CD8 T NEG</text>
<text x="448.3" y="245.3" font-size="6.8" text-anchor="middle" font-weight="normal" fill="#333" textLength="12.6" lengthAdjust="spacingAndGlyphs">TFH</text>
<text x="491.3" y="245.3" font-size="6.8" text-anchor="middle" font-weight="normal" fill="#333" textLength="37.0" lengthAdjust="spacingAndGlyphs">CD8 T POS</text>
<g shape-rendering="crispEdges"><rect x="341.90" y="249.20" width="14.48" height="2.29" fill="#aac5e4"/><rect x="356.08" y="249.20" width="14.48" height="2.29" fill="#dce1e8"/><rect x="370.26" y="249.20" width="14.48" height="2.29" fill="#9fbdde"/><rect x="384.44" y="249.20" width="14.48" height="2.29" fill="#94b5da"/><rect x="398.62" y="249.20" width="14.48" height="2.29" fill="#a5c1e1"/><rect x="412.80" y="249.20" width="14.48" height="2.29" fill="#acc6e4"/><rect x="426.98" y="249.20" width="14.48" height="2.29" fill="#efb69e"/><rect x="441.16" y="249.20" width="14.48" height="2.29" fill="#c2d4e8"/><rect x="455.34" y="249.20" width="14.48" height="2.29" fill="#c1d3e8"/><rect x="469.52" y="249.20" width="14.48" height="2.29" fill="#c25447"/><rect x="483.70" y="249.20" width="14.48" height="2.29" fill="#edbeaa"/><rect x="497.88" y="249.20" width="14.48" height="2.29" fill="#edaf97"/><rect x="341.90" y="251.19" width="14.48" height="2.29" fill="#bacfe7"/><rect x="356.08" y="251.19" width="14.48" height="2.29" fill="#658ec3"/><rect x="370.26" y="251.19" width="14.48" height="2.29" fill="#afc9e6"/><rect x="384.44" y="251.19" width="14.48" height="2.29" fill="#dfdbdf"/><rect x="398.62" y="251.19" width="14.48" height="2.29" fill="#84a8d2"/><rect x="412.80" y="251.19" width="14.48" height="2.29" fill="#adc7e5"/><rect x="426.98" y="251.19" width="14.48" height="2.29" fill="#d7765f"/><rect x="441.16" y="251.19" width="14.48" height="2.29" fill="#e1d6d6"/><rect x="455.34" y="251.19" width="14.48" height="2.29" fill="#dedce0"/><rect x="469.52" y="251.19" width="14.48" height="2.29" fill="#c05044"/><rect x="483.70" y="251.19" width="14.48" height="2.29" fill="#e2d5d4"/><rect x="497.88" y="251.19" width="14.48" height="2.29" fill="#e9a289"/><rect x="341.90" y="253.19" width="14.48" height="2.29" fill="#bfd2e8"/><rect x="356.08" y="253.19" width="14.48" height="2.29" fill="#608ac0"/><rect x="370.26" y="253.19" width="14.48" height="2.29" fill="#c4d5e8"/><rect x="384.44" y="253.19" width="14.48" height="2.29" fill="#edbeab"/><rect x="398.62" y="253.19" width="14.48" height="2.29" fill="#bacfe7"/><rect x="412.80" y="253.19" width="14.48" height="2.29" fill="#aac5e3"/><rect x="426.98" y="253.19" width="14.48" height="2.29" fill="#ecab92"/><rect x="441.16" y="253.19" width="14.48" height="2.29" fill="#dce0e7"/><rect x="455.34" y="253.19" width="14.48" height="2.29" fill="#e2d5d3"/><rect x="469.52" y="253.19" width="14.48" height="2.29" fill="#c05044"/><rect x="483.70" y="253.19" width="14.48" height="2.29" fill="#e1d8d8"/><rect x="497.88" y="253.19" width="14.48" height="2.29" fill="#e6cdc6"/><rect x="341.90" y="255.18" width="14.48" height="2.29" fill="#a1bedf"/><rect x="356.08" y="255.18" width="14.48" height="2.29" fill="#608ac0"/><rect x="370.26" y="255.18" width="14.48" height="2.29" fill="#a3c0e0"/><rect x="384.44" y="255.18" width="14.48" height="2.29" fill="#ecc0ae"/><rect x="398.62" y="255.18" width="14.48" height="2.29" fill="#a6c2e1"/><rect x="412.80" y="255.18" width="14.48" height="2.29" fill="#98b7db"/><rect x="426.98" y="255.18" width="14.48" height="2.29" fill="#edbdaa"/><rect x="441.16" y="255.18" width="14.48" height="2.29" fill="#c6d6e8"/><rect x="455.34" y="255.18" width="14.48" height="2.29" fill="#e1d7d8"/><rect x="469.52" y="255.18" width="14.48" height="2.29" fill="#e69980"/><rect x="483.70" y="255.18" width="14.48" height="2.29" fill="#d8dfe9"/><rect x="497.88" y="255.18" width="14.48" height="2.29" fill="#d0dbe8"/><rect x="341.90" y="257.18" width="14.48" height="2.29" fill="#b4cce7"/><rect x="356.08" y="257.18" width="14.48" height="2.29" fill="#9bb9dc"/><rect x="370.26" y="257.18" width="14.48" height="2.29" fill="#8caed6"/><rect x="384.44" y="257.18" width="14.48" height="2.29" fill="#cad7e8"/><rect x="398.62" y="257.18" width="14.48" height="2.29" fill="#96b5da"/><rect x="412.80" y="257.18" width="14.48" height="2.29" fill="#8fb1d7"/><rect x="426.98" y="257.18" width="14.48" height="2.29" fill="#de8269"/><rect x="441.16" y="257.18" width="14.48" height="2.29" fill="#e8a188"/><rect x="455.34" y="257.18" width="14.48" height="2.29" fill="#eaa68d"/><rect x="469.52" y="257.18" width="14.48" height="2.29" fill="#e4947b"/><rect x="483.70" y="257.18" width="14.48" height="2.29" fill="#dedde1"/><rect x="497.88" y="257.18" width="14.48" height="2.29" fill="#e9a48c"/><rect x="341.90" y="259.17" width="14.48" height="2.29" fill="#bacfe7"/><rect x="356.08" y="259.17" width="14.48" height="2.29" fill="#8caed6"/><rect x="370.26" y="259.17" width="14.48" height="2.29" fill="#8baed5"/><rect x="384.44" y="259.17" width="14.48" height="2.29" fill="#afc9e6"/><rect x="398.62" y="259.17" width="14.48" height="2.29" fill="#7ea3cf"/><rect x="412.80" y="259.17" width="14.48" height="2.29" fill="#84a8d2"/><rect x="426.98" y="259.17" width="14.48" height="2.29" fill="#d6745e"/><rect x="441.16" y="259.17" width="14.48" height="2.29" fill="#e69b82"/><rect x="455.34" y="259.17" width="14.48" height="2.29" fill="#e9a38a"/><rect x="469.52" y="259.17" width="14.48" height="2.29" fill="#e9a289"/><rect x="483.70" y="259.17" width="14.48" height="2.29" fill="#e3d3d1"/><rect x="497.88" y="259.17" width="14.48" height="2.29" fill="#eaa78f"/><rect x="341.90" y="261.16" width="14.48" height="2.29" fill="#bdd1e8"/><rect x="356.08" y="261.16" width="14.48" height="2.29" fill="#c9d7e8"/><rect x="370.26" y="261.16" width="14.48" height="2.29" fill="#b0c9e6"/><rect x="384.44" y="261.16" width="14.48" height="2.29" fill="#abc6e4"/><rect x="398.62" y="261.16" width="14.48" height="2.29" fill="#cbd8e8"/><rect x="412.80" y="261.16" width="14.48" height="2.29" fill="#b7cde7"/><rect x="426.98" y="261.16" width="14.48" height="2.29" fill="#eaa78f"/><rect x="441.16" y="261.16" width="14.48" height="2.29" fill="#eba990"/><rect x="455.34" y="261.16" width="14.48" height="2.29" fill="#eac3b4"/><rect x="469.52" y="261.16" width="14.48" height="2.29" fill="#e39178"/><rect x="483.70" y="261.16" width="14.48" height="2.29" fill="#e69b82"/><rect x="497.88" y="261.16" width="14.48" height="2.29" fill="#db7e65"/><rect x="341.90" y="263.16" width="14.48" height="2.29" fill="#bacfe7"/><rect x="356.08" y="263.16" width="14.48" height="2.29" fill="#81a6d1"/><rect x="370.26" y="263.16" width="14.48" height="2.29" fill="#b8cee7"/><rect x="384.44" y="263.16" width="14.48" height="2.29" fill="#bdd1e8"/><rect x="398.62" y="263.16" width="14.48" height="2.29" fill="#9ab9dc"/><rect x="412.80" y="263.16" width="14.48" height="2.29" fill="#95b5da"/><rect x="426.98" y="263.16" width="14.48" height="2.29" fill="#edae96"/><rect x="441.16" y="263.16" width="14.48" height="2.29" fill="#e69b81"/><rect x="455.34" y="263.16" width="14.48" height="2.29" fill="#efbaa3"/><rect x="469.52" y="263.16" width="14.48" height="2.29" fill="#e9a38a"/><rect x="483.70" y="263.16" width="14.48" height="2.29" fill="#d06a57"/><rect x="497.88" y="263.16" width="14.48" height="2.29" fill="#eeb39b"/><rect x="341.90" y="265.15" width="14.48" height="2.29" fill="#94b4d9"/><rect x="356.08" y="265.15" width="14.48" height="2.29" fill="#789ecc"/><rect x="370.26" y="265.15" width="14.48" height="2.29" fill="#a7c2e2"/><rect x="384.44" y="265.15" width="14.48" height="2.29" fill="#b4cce7"/><rect x="398.62" y="265.15" width="14.48" height="2.29" fill="#6c94c6"/><rect x="412.80" y="265.15" width="14.48" height="2.29" fill="#769ccb"/><rect x="426.98" y="265.15" width="14.48" height="2.29" fill="#ecc1af"/><rect x="441.16" y="265.15" width="14.48" height="2.29" fill="#e7cac0"/><rect x="455.34" y="265.15" width="14.48" height="2.29" fill="#dae0e9"/><rect x="469.52" y="265.15" width="14.48" height="2.29" fill="#edbfac"/><rect x="483.70" y="265.15" width="14.48" height="2.29" fill="#d6755f"/><rect x="497.88" y="265.15" width="14.48" height="2.29" fill="#eebda8"/><rect x="341.90" y="267.15" width="14.48" height="2.29" fill="#799ecc"/><rect x="356.08" y="267.15" width="14.48" height="2.29" fill="#7fa4cf"/><rect x="370.26" y="267.15" width="14.48" height="2.29" fill="#c7d6e8"/><rect x="384.44" y="267.15" width="14.48" height="2.29" fill="#b1cae6"/><rect x="398.62" y="267.15" width="14.48" height="2.29" fill="#7ea3cf"/><rect x="412.80" y="267.15" width="14.48" height="2.29" fill="#bcd0e7"/><rect x="426.98" y="267.15" width="14.48" height="2.29" fill="#ecc1b0"/><rect x="441.16" y="267.15" width="14.48" height="2.29" fill="#eaa78e"/><rect x="455.34" y="267.15" width="14.48" height="2.29" fill="#cbd8e8"/><rect x="469.52" y="267.15" width="14.48" height="2.29" fill="#cedae8"/><rect x="483.70" y="267.15" width="14.48" height="2.29" fill="#de8268"/><rect x="497.88" y="267.15" width="14.48" height="2.29" fill="#e0d9db"/><rect x="341.90" y="269.14" width="14.48" height="2.29" fill="#8fb0d7"/><rect x="356.08" y="269.14" width="14.48" height="2.29" fill="#779dcb"/><rect x="370.26" y="269.14" width="14.48" height="2.29" fill="#afc9e6"/><rect x="384.44" y="269.14" width="14.48" height="2.29" fill="#b1cae6"/><rect x="398.62" y="269.14" width="14.48" height="2.29" fill="#84a8d2"/><rect x="412.80" y="269.14" width="14.48" height="2.29" fill="#bfd2e8"/><rect x="426.98" y="269.14" width="14.48" height="2.29" fill="#efb59d"/><rect x="441.16" y="269.14" width="14.48" height="2.29" fill="#e9a48c"/><rect x="455.34" y="269.14" width="14.48" height="2.29" fill="#dfdadd"/><rect x="469.52" y="269.14" width="14.48" height="2.29" fill="#dddfe5"/><rect x="483.70" y="269.14" width="14.48" height="2.29" fill="#d97962"/><rect x="497.88" y="269.14" width="14.48" height="2.29" fill="#e1d6d6"/><rect x="341.90" y="271.13" width="14.48" height="2.29" fill="#87aad3"/><rect x="356.08" y="271.13" width="14.48" height="2.29" fill="#8aacd5"/><rect x="370.26" y="271.13" width="14.48" height="2.29" fill="#a9c4e3"/><rect x="384.44" y="271.13" width="14.48" height="2.29" fill="#cdd9e8"/><rect x="398.62" y="271.13" width="14.48" height="2.29" fill="#cbd8e8"/><rect x="412.80" y="271.13" width="14.48" height="2.29" fill="#8aadd5"/><rect x="426.98" y="271.13" width="14.48" height="2.29" fill="#efb59d"/><rect x="441.16" y="271.13" width="14.48" height="2.29" fill="#e18a71"/><rect x="455.34" y="271.13" width="14.48" height="2.29" fill="#d7765f"/><rect x="469.52" y="271.13" width="14.48" height="2.29" fill="#e1d7d7"/><rect x="483.70" y="271.13" width="14.48" height="2.29" fill="#ecc0af"/><rect x="497.88" y="271.13" width="14.48" height="2.29" fill="#c05044"/><rect x="341.90" y="273.13" width="14.48" height="2.29" fill="#658ec3"/><rect x="356.08" y="273.13" width="14.48" height="2.29" fill="#8eb0d7"/><rect x="370.26" y="273.13" width="14.48" height="2.29" fill="#adc7e5"/><rect x="384.44" y="273.13" width="14.48" height="2.29" fill="#95b5da"/><rect x="398.62" y="273.13" width="14.48" height="2.29" fill="#acc7e4"/><rect x="412.80" y="273.13" width="14.48" height="2.29" fill="#6e95c7"/><rect x="426.98" y="273.13" width="14.48" height="2.29" fill="#e28d73"/><rect x="441.16" y="273.13" width="14.48" height="2.29" fill="#da7b63"/><rect x="455.34" y="273.13" width="14.48" height="2.29" fill="#de8369"/><rect x="469.52" y="273.13" width="14.48" height="2.29" fill="#d3dce9"/><rect x="483.70" y="273.13" width="14.48" height="2.29" fill="#bcd0e7"/><rect x="497.88" y="273.13" width="14.48" height="2.29" fill="#c65a4b"/><rect x="341.90" y="275.12" width="14.48" height="2.29" fill="#7ea3cf"/><rect x="356.08" y="275.12" width="14.48" height="2.29" fill="#628cc1"/><rect x="370.26" y="275.12" width="14.48" height="2.29" fill="#608ac0"/><rect x="384.44" y="275.12" width="14.48" height="2.29" fill="#b2cbe7"/><rect x="398.62" y="275.12" width="14.48" height="2.29" fill="#dedce0"/><rect x="412.80" y="275.12" width="14.48" height="2.29" fill="#93b3d9"/><rect x="426.98" y="275.12" width="14.48" height="2.29" fill="#e1d8d8"/><rect x="441.16" y="275.12" width="14.48" height="2.29" fill="#eebca7"/><rect x="455.34" y="275.12" width="14.48" height="2.29" fill="#eebca8"/><rect x="469.52" y="275.12" width="14.48" height="2.29" fill="#c2d3e8"/><rect x="483.70" y="275.12" width="14.48" height="2.29" fill="#c5d5e8"/><rect x="497.88" y="275.12" width="14.48" height="2.29" fill="#e5cec7"/><rect x="341.90" y="277.12" width="14.48" height="2.29" fill="#749aca"/><rect x="356.08" y="277.12" width="14.48" height="2.29" fill="#88abd4"/><rect x="370.26" y="277.12" width="14.48" height="2.29" fill="#608ac0"/><rect x="384.44" y="277.12" width="14.48" height="2.29" fill="#bfd2e8"/><rect x="398.62" y="277.12" width="14.48" height="2.29" fill="#d0dbe8"/><rect x="412.80" y="277.12" width="14.48" height="2.29" fill="#a4c1e1"/><rect x="426.98" y="277.12" width="14.48" height="2.29" fill="#e5cec7"/><rect x="441.16" y="277.12" width="14.48" height="2.29" fill="#eac4b6"/><rect x="455.34" y="277.12" width="14.48" height="2.29" fill="#e3d2ce"/><rect x="469.52" y="277.12" width="14.48" height="2.29" fill="#bcd0e7"/><rect x="483.70" y="277.12" width="14.48" height="2.29" fill="#d9e0e9"/><rect x="497.88" y="277.12" width="14.48" height="2.29" fill="#edb098"/><rect x="341.90" y="279.11" width="14.48" height="2.29" fill="#9ebcde"/><rect x="356.08" y="279.11" width="14.48" height="2.29" fill="#90b1d7"/><rect x="370.26" y="279.11" width="14.48" height="2.29" fill="#608ac0"/><rect x="384.44" y="279.11" width="14.48" height="2.29" fill="#ecad94"/><rect x="398.62" y="279.11" width="14.48" height="2.29" fill="#dedee3"/><rect x="412.80" y="279.11" width="14.48" height="2.29" fill="#acc7e4"/><rect x="426.98" y="279.11" width="14.48" height="2.29" fill="#eac4b5"/><rect x="441.16" y="279.11" width="14.48" height="2.29" fill="#ebc1b1"/><rect x="455.34" y="279.11" width="14.48" height="2.29" fill="#d97961"/><rect x="469.52" y="279.11" width="14.48" height="2.29" fill="#e1d8d8"/><rect x="483.70" y="279.11" width="14.48" height="2.29" fill="#dddfe5"/><rect x="497.88" y="279.11" width="14.48" height="2.29" fill="#e8c9be"/><rect x="341.90" y="281.10" width="14.48" height="2.29" fill="#8dafd6"/><rect x="356.08" y="281.10" width="14.48" height="2.29" fill="#96b5da"/><rect x="370.26" y="281.10" width="14.48" height="2.29" fill="#608ac0"/><rect x="384.44" y="281.10" width="14.48" height="2.29" fill="#e6cdc5"/><rect x="398.62" y="281.10" width="14.48" height="2.29" fill="#e1d7d7"/><rect x="412.80" y="281.10" width="14.48" height="2.29" fill="#abc6e4"/><rect x="426.98" y="281.10" width="14.48" height="2.29" fill="#e9a289"/><rect x="441.16" y="281.10" width="14.48" height="2.29" fill="#eeb199"/><rect x="455.34" y="281.10" width="14.48" height="2.29" fill="#d4725c"/><rect x="469.52" y="281.10" width="14.48" height="2.29" fill="#e1d7d7"/><rect x="483.70" y="281.10" width="14.48" height="2.29" fill="#c5d5e8"/><rect x="497.88" y="281.10" width="14.48" height="2.29" fill="#e1d7d7"/><rect x="341.90" y="283.10" width="14.48" height="2.29" fill="#779dcc"/><rect x="356.08" y="283.10" width="14.48" height="2.29" fill="#a6c2e1"/><rect x="370.26" y="283.10" width="14.48" height="2.29" fill="#87aad3"/><rect x="384.44" y="283.10" width="14.48" height="2.29" fill="#eeb39a"/><rect x="398.62" y="283.10" width="14.48" height="2.29" fill="#dfdbdf"/><rect x="412.80" y="283.10" width="14.48" height="2.29" fill="#96b6da"/><rect x="426.98" y="283.10" width="14.48" height="2.29" fill="#eac5b7"/><rect x="441.16" y="283.10" width="14.48" height="2.29" fill="#e0d9db"/><rect x="455.34" y="283.10" width="14.48" height="2.29" fill="#ecbfad"/><rect x="469.52" y="283.10" width="14.48" height="2.29" fill="#b3cbe7"/><rect x="483.70" y="283.10" width="14.48" height="2.29" fill="#a1bedf"/><rect x="497.88" y="283.10" width="14.48" height="2.29" fill="#eebba6"/><rect x="341.90" y="285.09" width="14.48" height="2.29" fill="#93b4d9"/><rect x="356.08" y="285.09" width="14.48" height="2.29" fill="#aac5e3"/><rect x="370.26" y="285.09" width="14.48" height="2.29" fill="#7da3cf"/><rect x="384.44" y="285.09" width="14.48" height="2.29" fill="#edbfac"/><rect x="398.62" y="285.09" width="14.48" height="2.29" fill="#e7cbc1"/><rect x="412.80" y="285.09" width="14.48" height="2.29" fill="#c1d3e8"/><rect x="426.98" y="285.09" width="14.48" height="2.29" fill="#f0b79f"/><rect x="441.16" y="285.09" width="14.48" height="2.29" fill="#eeb29a"/><rect x="455.34" y="285.09" width="14.48" height="2.29" fill="#efb49b"/><rect x="469.52" y="285.09" width="14.48" height="2.29" fill="#b7cde7"/><rect x="483.70" y="285.09" width="14.48" height="2.29" fill="#b2cbe7"/><rect x="497.88" y="285.09" width="14.48" height="2.29" fill="#efbaa3"/><rect x="341.90" y="287.09" width="14.48" height="2.29" fill="#608ac0"/><rect x="356.08" y="287.09" width="14.48" height="2.29" fill="#8daed6"/><rect x="370.26" y="287.09" width="14.48" height="2.29" fill="#7fa4d0"/><rect x="384.44" y="287.09" width="14.48" height="2.29" fill="#a6c2e2"/><rect x="398.62" y="287.09" width="14.48" height="2.29" fill="#a3bfe0"/><rect x="412.80" y="287.09" width="14.48" height="2.29" fill="#a6c2e2"/><rect x="426.98" y="287.09" width="14.48" height="2.29" fill="#c5594a"/><rect x="441.16" y="287.09" width="14.48" height="2.29" fill="#e7cbc1"/><rect x="455.34" y="287.09" width="14.48" height="2.29" fill="#ecc1b0"/><rect x="469.52" y="287.09" width="14.48" height="2.29" fill="#d3dce9"/><rect x="483.70" y="287.09" width="14.48" height="2.29" fill="#c8d6e8"/><rect x="497.88" y="287.09" width="14.48" height="2.29" fill="#c7d6e8"/><rect x="341.90" y="289.08" width="14.48" height="2.29" fill="#608ac0"/><rect x="356.08" y="289.08" width="14.48" height="2.29" fill="#85a9d3"/><rect x="370.26" y="289.08" width="14.48" height="2.29" fill="#648ec2"/><rect x="384.44" y="289.08" width="14.48" height="2.29" fill="#a4c1e1"/><rect x="398.62" y="289.08" width="14.48" height="2.29" fill="#a0bddf"/><rect x="412.80" y="289.08" width="14.48" height="2.29" fill="#a0bddf"/><rect x="426.98" y="289.08" width="14.48" height="2.29" fill="#c65a4b"/><rect x="441.16" y="289.08" width="14.48" height="2.29" fill="#eeb39b"/><rect x="455.34" y="289.08" width="14.48" height="2.29" fill="#ecc0ae"/><rect x="469.52" y="289.08" width="14.48" height="2.29" fill="#d1dbe8"/><rect x="483.70" y="289.08" width="14.48" height="2.29" fill="#ccd8e8"/><rect x="497.88" y="289.08" width="14.48" height="2.29" fill="#d1dbe8"/><rect x="341.90" y="291.07" width="14.48" height="2.29" fill="#b6cde7"/><rect x="356.08" y="291.07" width="14.48" height="2.29" fill="#80a4d0"/><rect x="370.26" y="291.07" width="14.48" height="2.29" fill="#7ea3cf"/><rect x="384.44" y="291.07" width="14.48" height="2.29" fill="#adc7e5"/><rect x="398.62" y="291.07" width="14.48" height="2.29" fill="#d4dde9"/><rect x="412.80" y="291.07" width="14.48" height="2.29" fill="#c7d6e8"/><rect x="426.98" y="291.07" width="14.48" height="2.29" fill="#d5735d"/><rect x="441.16" y="291.07" width="14.48" height="2.29" fill="#da7b63"/><rect x="455.34" y="291.07" width="14.48" height="2.29" fill="#cc6452"/><rect x="469.52" y="291.07" width="14.48" height="2.29" fill="#b3cbe7"/><rect x="483.70" y="291.07" width="14.48" height="2.29" fill="#c3d4e8"/><rect x="497.88" y="291.07" width="14.48" height="2.29" fill="#c4d4e8"/><rect x="341.90" y="293.07" width="14.48" height="2.29" fill="#8eb0d7"/><rect x="356.08" y="293.07" width="14.48" height="2.29" fill="#6e96c7"/><rect x="370.26" y="293.07" width="14.48" height="2.29" fill="#81a5d0"/><rect x="384.44" y="293.07" width="14.48" height="2.29" fill="#b3cbe7"/><rect x="398.62" y="293.07" width="14.48" height="2.29" fill="#bfd2e8"/><rect x="412.80" y="293.07" width="14.48" height="2.29" fill="#b0c9e6"/><rect x="426.98" y="293.07" width="14.48" height="2.29" fill="#e69a81"/><rect x="441.16" y="293.07" width="14.48" height="2.29" fill="#e69a81"/><rect x="455.34" y="293.07" width="14.48" height="2.29" fill="#e79d84"/><rect x="469.52" y="293.07" width="14.48" height="2.29" fill="#9ebcde"/><rect x="483.70" y="293.07" width="14.48" height="2.29" fill="#8badd5"/><rect x="497.88" y="293.07" width="14.48" height="2.29" fill="#95b5da"/><rect x="341.90" y="295.06" width="14.48" height="2.29" fill="#acc6e4"/><rect x="356.08" y="295.06" width="14.48" height="2.29" fill="#bfd2e8"/><rect x="370.26" y="295.06" width="14.48" height="2.29" fill="#c7d6e8"/><rect x="384.44" y="295.06" width="14.48" height="2.29" fill="#a1bedf"/><rect x="398.62" y="295.06" width="14.48" height="2.29" fill="#8fb1d7"/><rect x="412.80" y="295.06" width="14.48" height="2.29" fill="#a0bddf"/><rect x="426.98" y="295.06" width="14.48" height="2.29" fill="#e89f86"/><rect x="441.16" y="295.06" width="14.48" height="2.29" fill="#d5745e"/><rect x="455.34" y="295.06" width="14.48" height="2.29" fill="#c35648"/><rect x="469.52" y="295.06" width="14.48" height="2.29" fill="#9cbadd"/><rect x="483.70" y="295.06" width="14.48" height="2.29" fill="#b2cbe7"/><rect x="497.88" y="295.06" width="14.48" height="2.29" fill="#acc7e4"/><rect x="341.90" y="297.06" width="14.48" height="2.29" fill="#9bb9dc"/><rect x="356.08" y="297.06" width="14.48" height="2.29" fill="#9ebcde"/><rect x="370.26" y="297.06" width="14.48" height="2.29" fill="#a2bfe0"/><rect x="384.44" y="297.06" width="14.48" height="2.29" fill="#a3c0e0"/><rect x="398.62" y="297.06" width="14.48" height="2.29" fill="#9dbbdd"/><rect x="412.80" y="297.06" width="14.48" height="2.29" fill="#a4c0e1"/><rect x="426.98" y="297.06" width="14.48" height="2.29" fill="#e79e85"/><rect x="441.16" y="297.06" width="14.48" height="2.29" fill="#e9a38a"/><rect x="455.34" y="297.06" width="14.48" height="2.29" fill="#c05044"/><rect x="469.52" y="297.06" width="14.48" height="2.29" fill="#a6c2e2"/><rect x="483.70" y="297.06" width="14.48" height="2.29" fill="#a7c3e2"/><rect x="497.88" y="297.06" width="14.48" height="2.29" fill="#8dafd6"/><rect x="341.90" y="299.05" width="14.48" height="2.29" fill="#bacfe7"/><rect x="356.08" y="299.05" width="14.48" height="2.29" fill="#a0bddf"/><rect x="370.26" y="299.05" width="14.48" height="2.29" fill="#bdd1e8"/><rect x="384.44" y="299.05" width="14.48" height="2.29" fill="#abc6e4"/><rect x="398.62" y="299.05" width="14.48" height="2.29" fill="#b5cde7"/><rect x="412.80" y="299.05" width="14.48" height="2.29" fill="#afc8e5"/><rect x="426.98" y="299.05" width="14.48" height="2.29" fill="#dd8167"/><rect x="441.16" y="299.05" width="14.48" height="2.29" fill="#c05044"/><rect x="455.34" y="299.05" width="14.48" height="2.29" fill="#e18a70"/><rect x="469.52" y="299.05" width="14.48" height="2.29" fill="#c3d4e8"/><rect x="483.70" y="299.05" width="14.48" height="2.29" fill="#a6c2e2"/><rect x="497.88" y="299.05" width="14.48" height="2.29" fill="#d0dae8"/><rect x="341.90" y="301.04" width="14.48" height="2.29" fill="#abc6e4"/><rect x="356.08" y="301.04" width="14.48" height="2.29" fill="#b4cce7"/><rect x="370.26" y="301.04" width="14.48" height="2.29" fill="#c3d4e8"/><rect x="384.44" y="301.04" width="14.48" height="2.29" fill="#c7d6e8"/><rect x="398.62" y="301.04" width="14.48" height="2.29" fill="#a2bfe0"/><rect x="412.80" y="301.04" width="14.48" height="2.29" fill="#bfd2e8"/><rect x="426.98" y="301.04" width="14.48" height="2.29" fill="#c9604f"/><rect x="441.16" y="301.04" width="14.48" height="2.29" fill="#c05044"/><rect x="455.34" y="301.04" width="14.48" height="2.29" fill="#db7e65"/><rect x="469.52" y="301.04" width="14.48" height="2.29" fill="#b1cbe7"/><rect x="483.70" y="301.04" width="14.48" height="2.29" fill="#b5cde7"/><rect x="497.88" y="301.04" width="14.48" height="2.29" fill="#d5dde9"/><rect x="341.90" y="303.04" width="14.48" height="2.29" fill="#eebda8"/><rect x="356.08" y="303.04" width="14.48" height="2.29" fill="#adc8e5"/><rect x="370.26" y="303.04" width="14.48" height="2.29" fill="#bdd1e8"/><rect x="384.44" y="303.04" width="14.48" height="2.29" fill="#acc7e4"/><rect x="398.62" y="303.04" width="14.48" height="2.29" fill="#9dbbdd"/><rect x="412.80" y="303.04" width="14.48" height="2.29" fill="#bcd0e7"/><rect x="426.98" y="303.04" width="14.48" height="2.29" fill="#e4957c"/><rect x="441.16" y="303.04" width="14.48" height="2.29" fill="#c6594b"/><rect x="455.34" y="303.04" width="14.48" height="2.29" fill="#e0876d"/><rect x="469.52" y="303.04" width="14.48" height="2.29" fill="#abc6e4"/><rect x="483.70" y="303.04" width="14.48" height="2.29" fill="#a2bfe0"/><rect x="497.88" y="303.04" width="14.48" height="2.29" fill="#d7dee9"/><rect x="341.90" y="305.03" width="14.48" height="2.29" fill="#eaa78f"/><rect x="356.08" y="305.03" width="14.48" height="2.29" fill="#c5d5e8"/><rect x="370.26" y="305.03" width="14.48" height="2.29" fill="#d3dce9"/><rect x="384.44" y="305.03" width="14.48" height="2.29" fill="#cfdae8"/><rect x="398.62" y="305.03" width="14.48" height="2.29" fill="#cfdae8"/><rect x="412.80" y="305.03" width="14.48" height="2.29" fill="#d0dbe8"/><rect x="426.98" y="305.03" width="14.48" height="2.29" fill="#df866c"/><rect x="441.16" y="305.03" width="14.48" height="2.29" fill="#c05044"/><rect x="455.34" y="305.03" width="14.48" height="2.29" fill="#cf6855"/><rect x="469.52" y="305.03" width="14.48" height="2.29" fill="#ccd9e8"/><rect x="483.70" y="305.03" width="14.48" height="2.29" fill="#d5dee9"/><rect x="497.88" y="305.03" width="14.48" height="2.29" fill="#e8c8bc"/><rect x="341.90" y="307.03" width="14.48" height="2.29" fill="#dae0e9"/><rect x="356.08" y="307.03" width="14.48" height="2.29" fill="#adc7e5"/><rect x="370.26" y="307.03" width="14.48" height="2.29" fill="#b3cbe7"/><rect x="384.44" y="307.03" width="14.48" height="2.29" fill="#b8cee7"/><rect x="398.62" y="307.03" width="14.48" height="2.29" fill="#abc6e4"/><rect x="412.80" y="307.03" width="14.48" height="2.29" fill="#a5c1e1"/><rect x="426.98" y="307.03" width="14.48" height="2.29" fill="#e39278"/><rect x="441.16" y="307.03" width="14.48" height="2.29" fill="#d6755f"/><rect x="455.34" y="307.03" width="14.48" height="2.29" fill="#d5735d"/><rect x="469.52" y="307.03" width="14.48" height="2.29" fill="#bbd0e7"/><rect x="483.70" y="307.03" width="14.48" height="2.29" fill="#bacfe7"/><rect x="497.88" y="307.03" width="14.48" height="2.29" fill="#bacfe7"/><rect x="341.90" y="309.02" width="14.48" height="2.29" fill="#e0d9db"/><rect x="356.08" y="309.02" width="14.48" height="2.29" fill="#a4c1e1"/><rect x="370.26" y="309.02" width="14.48" height="2.29" fill="#afc9e6"/><rect x="384.44" y="309.02" width="14.48" height="2.29" fill="#a9c4e3"/><rect x="398.62" y="309.02" width="14.48" height="2.29" fill="#bbcfe7"/><rect x="412.80" y="309.02" width="14.48" height="2.29" fill="#abc5e4"/><rect x="426.98" y="309.02" width="14.48" height="2.29" fill="#df846a"/><rect x="441.16" y="309.02" width="14.48" height="2.29" fill="#db7c64"/><rect x="455.34" y="309.02" width="14.48" height="2.29" fill="#d36f5a"/><rect x="469.52" y="309.02" width="14.48" height="2.29" fill="#a8c3e2"/><rect x="483.70" y="309.02" width="14.48" height="2.29" fill="#a6c2e1"/><rect x="497.88" y="309.02" width="14.48" height="2.29" fill="#bcd0e7"/><rect x="341.90" y="311.01" width="14.48" height="2.29" fill="#eebda9"/><rect x="356.08" y="311.01" width="14.48" height="2.29" fill="#9fbddf"/><rect x="370.26" y="311.01" width="14.48" height="2.29" fill="#a5c1e1"/><rect x="384.44" y="311.01" width="14.48" height="2.29" fill="#8fb1d7"/><rect x="398.62" y="311.01" width="14.48" height="2.29" fill="#b0c9e6"/><rect x="412.80" y="311.01" width="14.48" height="2.29" fill="#a0bedf"/><rect x="426.98" y="311.01" width="14.48" height="2.29" fill="#e79d84"/><rect x="441.16" y="311.01" width="14.48" height="2.29" fill="#c05044"/><rect x="455.34" y="311.01" width="14.48" height="2.29" fill="#df846a"/><rect x="469.52" y="311.01" width="14.48" height="2.29" fill="#d1dbe8"/><rect x="483.70" y="311.01" width="14.48" height="2.29" fill="#acc6e4"/><rect x="497.88" y="311.01" width="14.48" height="2.29" fill="#cedae8"/><rect x="341.90" y="313.01" width="14.48" height="2.29" fill="#e5cec6"/><rect x="356.08" y="313.01" width="14.48" height="2.29" fill="#b3cbe7"/><rect x="370.26" y="313.01" width="14.48" height="2.29" fill="#8badd5"/><rect x="384.44" y="313.01" width="14.48" height="2.29" fill="#b9cfe7"/><rect x="398.62" y="313.01" width="14.48" height="2.29" fill="#a7c3e2"/><rect x="412.80" y="313.01" width="14.48" height="2.29" fill="#b5cce7"/><rect x="426.98" y="313.01" width="14.48" height="2.29" fill="#c45648"/><rect x="441.16" y="313.01" width="14.48" height="2.29" fill="#e4947a"/><rect x="455.34" y="313.01" width="14.48" height="2.29" fill="#ebaa91"/><rect x="469.52" y="313.01" width="14.48" height="2.29" fill="#bbd0e7"/><rect x="483.70" y="313.01" width="14.48" height="2.29" fill="#b4cce7"/><rect x="497.88" y="313.01" width="14.48" height="2.29" fill="#a7c3e2"/><rect x="341.90" y="315.00" width="14.48" height="2.29" fill="#cfdae8"/><rect x="356.08" y="315.00" width="14.48" height="2.29" fill="#9cbbdd"/><rect x="370.26" y="315.00" width="14.48" height="2.29" fill="#638dc2"/><rect x="384.44" y="315.00" width="14.48" height="2.29" fill="#9dbbdd"/><rect x="398.62" y="315.00" width="14.48" height="2.29" fill="#8aadd5"/><rect x="412.80" y="315.00" width="14.48" height="2.29" fill="#9dbbde"/><rect x="426.98" y="315.00" width="14.48" height="2.29" fill="#cc6452"/><rect x="441.16" y="315.00" width="14.48" height="2.29" fill="#e4947b"/><rect x="455.34" y="315.00" width="14.48" height="2.29" fill="#e8c8bc"/><rect x="469.52" y="315.00" width="14.48" height="2.29" fill="#a0bddf"/><rect x="483.70" y="315.00" width="14.48" height="2.29" fill="#8fb0d7"/><rect x="497.88" y="315.00" width="14.48" height="2.29" fill="#99b8db"/><rect x="341.90" y="317.00" width="14.48" height="2.29" fill="#d5dde9"/><rect x="356.08" y="317.00" width="14.48" height="2.29" fill="#b0cae6"/><rect x="370.26" y="317.00" width="14.48" height="2.29" fill="#87aad3"/><rect x="384.44" y="317.00" width="14.48" height="2.29" fill="#c1d3e8"/><rect x="398.62" y="317.00" width="14.48" height="2.29" fill="#8caed6"/><rect x="412.80" y="317.00" width="14.48" height="2.29" fill="#b2cbe7"/><rect x="426.98" y="317.00" width="14.48" height="2.29" fill="#c5584a"/><rect x="441.16" y="317.00" width="14.48" height="2.29" fill="#ce6855"/><rect x="455.34" y="317.00" width="14.48" height="2.29" fill="#edb098"/><rect x="469.52" y="317.00" width="14.48" height="2.29" fill="#98b7db"/><rect x="483.70" y="317.00" width="14.48" height="2.29" fill="#b2cbe7"/><rect x="497.88" y="317.00" width="14.48" height="2.29" fill="#a6c2e2"/><rect x="341.90" y="318.99" width="14.48" height="2.29" fill="#aec8e5"/><rect x="356.08" y="318.99" width="14.48" height="2.29" fill="#bacfe7"/><rect x="370.26" y="318.99" width="14.48" height="2.29" fill="#bacfe7"/><rect x="384.44" y="318.99" width="14.48" height="2.29" fill="#bacfe7"/><rect x="398.62" y="318.99" width="14.48" height="2.29" fill="#87aad3"/><rect x="412.80" y="318.99" width="14.48" height="2.29" fill="#a4c1e1"/><rect x="426.98" y="318.99" width="14.48" height="2.29" fill="#c05044"/><rect x="441.16" y="318.99" width="14.48" height="2.29" fill="#cf6956"/><rect x="455.34" y="318.99" width="14.48" height="2.29" fill="#d87861"/><rect x="469.52" y="318.99" width="14.48" height="2.29" fill="#afc9e6"/><rect x="483.70" y="318.99" width="14.48" height="2.29" fill="#bed1e8"/><rect x="497.88" y="318.99" width="14.48" height="2.29" fill="#c2d3e8"/><rect x="341.90" y="320.98" width="14.48" height="2.29" fill="#b0cae6"/><rect x="356.08" y="320.98" width="14.48" height="2.29" fill="#c1d3e8"/><rect x="370.26" y="320.98" width="14.48" height="2.29" fill="#a2bfe0"/><rect x="384.44" y="320.98" width="14.48" height="2.29" fill="#a9c4e3"/><rect x="398.62" y="320.98" width="14.48" height="2.29" fill="#6f97c8"/><rect x="412.80" y="320.98" width="14.48" height="2.29" fill="#a7c3e2"/><rect x="426.98" y="320.98" width="14.48" height="2.29" fill="#c75c4d"/><rect x="441.16" y="320.98" width="14.48" height="2.29" fill="#e49379"/><rect x="455.34" y="320.98" width="14.48" height="2.29" fill="#e28f75"/><rect x="469.52" y="320.98" width="14.48" height="2.29" fill="#c6d5e8"/><rect x="483.70" y="320.98" width="14.48" height="2.29" fill="#aec8e5"/><rect x="497.88" y="320.98" width="14.48" height="2.29" fill="#afc9e6"/><rect x="341.90" y="322.98" width="14.48" height="2.29" fill="#e89f86"/><rect x="356.08" y="322.98" width="14.48" height="2.29" fill="#b2cbe7"/><rect x="370.26" y="322.98" width="14.48" height="2.29" fill="#cbd8e8"/><rect x="384.44" y="322.98" width="14.48" height="2.29" fill="#8eb0d7"/><rect x="398.62" y="322.98" width="14.48" height="2.29" fill="#afc9e6"/><rect x="412.80" y="322.98" width="14.48" height="2.29" fill="#b8cee7"/><rect x="426.98" y="322.98" width="14.48" height="2.29" fill="#eaa78e"/><rect x="441.16" y="322.98" width="14.48" height="2.29" fill="#dd8067"/><rect x="455.34" y="322.98" width="14.48" height="2.29" fill="#cf6856"/><rect x="469.52" y="322.98" width="14.48" height="2.29" fill="#bacfe7"/><rect x="483.70" y="322.98" width="14.48" height="2.29" fill="#c6d5e8"/><rect x="497.88" y="322.98" width="14.48" height="2.29" fill="#e4d1cd"/><rect x="341.90" y="324.97" width="14.48" height="2.29" fill="#eeb199"/><rect x="356.08" y="324.97" width="14.48" height="2.29" fill="#b7cee7"/><rect x="370.26" y="324.97" width="14.48" height="2.29" fill="#adc7e5"/><rect x="384.44" y="324.97" width="14.48" height="2.29" fill="#a0bddf"/><rect x="398.62" y="324.97" width="14.48" height="2.29" fill="#9ebcde"/><rect x="412.80" y="324.97" width="14.48" height="2.29" fill="#afc9e6"/><rect x="426.98" y="324.97" width="14.48" height="2.29" fill="#ce6755"/><rect x="441.16" y="324.97" width="14.48" height="2.29" fill="#e39077"/><rect x="455.34" y="324.97" width="14.48" height="2.29" fill="#cb6251"/><rect x="469.52" y="324.97" width="14.48" height="2.29" fill="#a3bfe0"/><rect x="483.70" y="324.97" width="14.48" height="2.29" fill="#9ebcde"/><rect x="497.88" y="324.97" width="14.48" height="2.29" fill="#9fbdde"/><rect x="341.90" y="326.97" width="14.48" height="2.29" fill="#eaa58c"/><rect x="356.08" y="326.97" width="14.48" height="2.29" fill="#b0c9e6"/><rect x="370.26" y="326.97" width="14.48" height="2.29" fill="#a9c4e3"/><rect x="384.44" y="326.97" width="14.48" height="2.29" fill="#9bbadd"/><rect x="398.62" y="326.97" width="14.48" height="2.29" fill="#b3cbe7"/><rect x="412.80" y="326.97" width="14.48" height="2.29" fill="#b0c9e6"/><rect x="426.98" y="326.97" width="14.48" height="2.29" fill="#e5977e"/><rect x="441.16" y="326.97" width="14.48" height="2.29" fill="#e4957c"/><rect x="455.34" y="326.97" width="14.48" height="2.29" fill="#c25346"/><rect x="469.52" y="326.97" width="14.48" height="2.29" fill="#bcd0e7"/><rect x="483.70" y="326.97" width="14.48" height="2.29" fill="#b7cee7"/><rect x="497.88" y="326.97" width="14.48" height="2.29" fill="#b3cbe7"/><rect x="341.90" y="328.96" width="14.48" height="2.29" fill="#dce0e8"/><rect x="356.08" y="328.96" width="14.48" height="2.29" fill="#afc8e5"/><rect x="370.26" y="328.96" width="14.48" height="2.29" fill="#c9d7e8"/><rect x="384.44" y="328.96" width="14.48" height="2.29" fill="#a0bddf"/><rect x="398.62" y="328.96" width="14.48" height="2.29" fill="#7ea3cf"/><rect x="412.80" y="328.96" width="14.48" height="2.29" fill="#bed1e8"/><rect x="426.98" y="328.96" width="14.48" height="2.29" fill="#e18a70"/><rect x="441.16" y="328.96" width="14.48" height="2.29" fill="#d4725c"/><rect x="455.34" y="328.96" width="14.48" height="2.29" fill="#e0876d"/><rect x="469.52" y="328.96" width="14.48" height="2.29" fill="#dbe0e9"/><rect x="483.70" y="328.96" width="14.48" height="2.29" fill="#edbfad"/><rect x="497.88" y="328.96" width="14.48" height="2.29" fill="#e7cbc1"/><rect x="341.90" y="330.95" width="14.48" height="2.29" fill="#c3d4e8"/><rect x="356.08" y="330.95" width="14.48" height="2.29" fill="#b0cae6"/><rect x="370.26" y="330.95" width="14.48" height="2.29" fill="#b0c9e6"/><rect x="384.44" y="330.95" width="14.48" height="2.29" fill="#b4cce7"/><rect x="398.62" y="330.95" width="14.48" height="2.29" fill="#b0c9e6"/><rect x="412.80" y="330.95" width="14.48" height="2.29" fill="#b5cde7"/><rect x="426.98" y="330.95" width="14.48" height="2.29" fill="#e39278"/><rect x="441.16" y="330.95" width="14.48" height="2.29" fill="#eac3b4"/><rect x="455.34" y="330.95" width="14.48" height="2.29" fill="#dc7f66"/><rect x="469.52" y="330.95" width="14.48" height="2.29" fill="#cfdae8"/><rect x="483.70" y="330.95" width="14.48" height="2.29" fill="#e4d0cb"/><rect x="497.88" y="330.95" width="14.48" height="2.29" fill="#eac3b4"/><rect x="341.90" y="332.95" width="14.48" height="2.29" fill="#b4cce7"/><rect x="356.08" y="332.95" width="14.48" height="2.29" fill="#a3c0e0"/><rect x="370.26" y="332.95" width="14.48" height="2.29" fill="#9fbcde"/><rect x="384.44" y="332.95" width="14.48" height="2.29" fill="#a8c4e3"/><rect x="398.62" y="332.95" width="14.48" height="2.29" fill="#bfd2e8"/><rect x="412.80" y="332.95" width="14.48" height="2.29" fill="#acc6e4"/><rect x="426.98" y="332.95" width="14.48" height="2.29" fill="#df866c"/><rect x="441.16" y="332.95" width="14.48" height="2.29" fill="#eebda9"/><rect x="455.34" y="332.95" width="14.48" height="2.29" fill="#df846a"/><rect x="469.52" y="332.95" width="14.48" height="2.29" fill="#dfdbdf"/><rect x="483.70" y="332.95" width="14.48" height="2.29" fill="#eba991"/><rect x="497.88" y="332.95" width="14.48" height="2.29" fill="#e4d0ca"/><rect x="341.90" y="334.94" width="14.48" height="2.29" fill="#bfd2e8"/><rect x="356.08" y="334.94" width="14.48" height="2.29" fill="#e0d8da"/><rect x="370.26" y="334.94" width="14.48" height="2.29" fill="#dbe0e9"/><rect x="384.44" y="334.94" width="14.48" height="2.29" fill="#90b1d7"/><rect x="398.62" y="334.94" width="14.48" height="2.29" fill="#abc6e4"/><rect x="412.80" y="334.94" width="14.48" height="2.29" fill="#9ebcde"/><rect x="426.98" y="334.94" width="14.48" height="2.29" fill="#de8168"/><rect x="441.16" y="334.94" width="14.48" height="2.29" fill="#d16c58"/><rect x="455.34" y="334.94" width="14.48" height="2.29" fill="#cf6956"/><rect x="469.52" y="334.94" width="14.48" height="2.29" fill="#e1d6d6"/><rect x="483.70" y="334.94" width="14.48" height="2.29" fill="#cdd9e8"/><rect x="497.88" y="334.94" width="14.48" height="2.29" fill="#e0d9da"/><rect x="341.90" y="336.94" width="14.48" height="2.29" fill="#a2bfe0"/><rect x="356.08" y="336.94" width="14.48" height="2.29" fill="#e5cec7"/><rect x="370.26" y="336.94" width="14.48" height="2.29" fill="#adc7e5"/><rect x="384.44" y="336.94" width="14.48" height="2.29" fill="#7fa3cf"/><rect x="398.62" y="336.94" width="14.48" height="2.29" fill="#7fa4d0"/><rect x="412.80" y="336.94" width="14.48" height="2.29" fill="#7ba0cd"/><rect x="426.98" y="336.94" width="14.48" height="2.29" fill="#e39077"/><rect x="441.16" y="336.94" width="14.48" height="2.29" fill="#de8369"/><rect x="455.34" y="336.94" width="14.48" height="2.29" fill="#dd8066"/><rect x="469.52" y="336.94" width="14.48" height="2.29" fill="#d4dde9"/><rect x="483.70" y="336.94" width="14.48" height="2.29" fill="#d9e0e9"/><rect x="497.88" y="336.94" width="14.48" height="2.29" fill="#cad8e8"/><rect x="341.90" y="338.93" width="14.48" height="2.29" fill="#aec8e5"/><rect x="356.08" y="338.93" width="14.48" height="2.29" fill="#dfdadc"/><rect x="370.26" y="338.93" width="14.48" height="2.29" fill="#d6dee9"/><rect x="384.44" y="338.93" width="14.48" height="2.29" fill="#83a7d1"/><rect x="398.62" y="338.93" width="14.48" height="2.29" fill="#8caed6"/><rect x="412.80" y="338.93" width="14.48" height="2.29" fill="#7ca1ce"/><rect x="426.98" y="338.93" width="14.48" height="2.29" fill="#e18c73"/><rect x="441.16" y="338.93" width="14.48" height="2.29" fill="#db7d64"/><rect x="455.34" y="338.93" width="14.48" height="2.29" fill="#db7d65"/><rect x="469.52" y="338.93" width="14.48" height="2.29" fill="#d8dfe9"/><rect x="483.70" y="338.93" width="14.48" height="2.29" fill="#e69a81"/><rect x="497.88" y="338.93" width="14.48" height="2.29" fill="#e6ccc4"/><rect x="341.90" y="340.92" width="14.48" height="2.29" fill="#a3c0e0"/><rect x="356.08" y="340.92" width="14.48" height="2.29" fill="#d9dfe9"/><rect x="370.26" y="340.92" width="14.48" height="2.29" fill="#e1d7d8"/><rect x="384.44" y="340.92" width="14.48" height="2.29" fill="#81a6d1"/><rect x="398.62" y="340.92" width="14.48" height="2.29" fill="#7aa0cd"/><rect x="412.80" y="340.92" width="14.48" height="2.29" fill="#7aa0cd"/><rect x="426.98" y="340.92" width="14.48" height="2.29" fill="#edbeab"/><rect x="441.16" y="340.92" width="14.48" height="2.29" fill="#dc7f65"/><rect x="455.34" y="340.92" width="14.48" height="2.29" fill="#e0886e"/><rect x="469.52" y="340.92" width="14.48" height="2.29" fill="#dddee4"/><rect x="483.70" y="340.92" width="14.48" height="2.29" fill="#e18a71"/><rect x="497.88" y="340.92" width="14.48" height="2.29" fill="#e7cac0"/><rect x="341.90" y="342.92" width="14.48" height="2.29" fill="#acc6e4"/><rect x="356.08" y="342.92" width="14.48" height="2.29" fill="#a9c4e3"/><rect x="370.26" y="342.92" width="14.48" height="2.29" fill="#a6c2e1"/><rect x="384.44" y="342.92" width="14.48" height="2.29" fill="#b5cce7"/><rect x="398.62" y="342.92" width="14.48" height="2.29" fill="#789ecc"/><rect x="412.80" y="342.92" width="14.48" height="2.29" fill="#a3c0e0"/><rect x="426.98" y="342.92" width="14.48" height="2.29" fill="#e4947b"/><rect x="441.16" y="342.92" width="14.48" height="2.29" fill="#ebc3b3"/><rect x="455.34" y="342.92" width="14.48" height="2.29" fill="#da7b63"/><rect x="469.52" y="342.92" width="14.48" height="2.29" fill="#dce1e9"/><rect x="483.70" y="342.92" width="14.48" height="2.29" fill="#96b6da"/><rect x="497.88" y="342.92" width="14.48" height="2.29" fill="#cdd9e8"/><rect x="341.90" y="344.91" width="14.48" height="2.29" fill="#b4cce7"/><rect x="356.08" y="344.91" width="14.48" height="2.29" fill="#adc7e5"/><rect x="370.26" y="344.91" width="14.48" height="2.29" fill="#b5cde7"/><rect x="384.44" y="344.91" width="14.48" height="2.29" fill="#a9c4e3"/><rect x="398.62" y="344.91" width="14.48" height="2.29" fill="#6a93c5"/><rect x="412.80" y="344.91" width="14.48" height="2.29" fill="#b0c9e6"/><rect x="426.98" y="344.91" width="14.48" height="2.29" fill="#e0886e"/><rect x="441.16" y="344.91" width="14.48" height="2.29" fill="#efb9a2"/><rect x="455.34" y="344.91" width="14.48" height="2.29" fill="#e89f86"/><rect x="469.52" y="344.91" width="14.48" height="2.29" fill="#d6dee9"/><rect x="483.70" y="344.91" width="14.48" height="2.29" fill="#a1bedf"/><rect x="497.88" y="344.91" width="14.48" height="2.29" fill="#cdd9e8"/><rect x="341.90" y="346.91" width="14.48" height="2.29" fill="#8caed6"/><rect x="356.08" y="346.91" width="14.48" height="2.29" fill="#aac5e3"/><rect x="370.26" y="346.91" width="14.48" height="2.29" fill="#a0bddf"/><rect x="384.44" y="346.91" width="14.48" height="2.29" fill="#96b5da"/><rect x="398.62" y="346.91" width="14.48" height="2.29" fill="#d9dfe9"/><rect x="412.80" y="346.91" width="14.48" height="2.29" fill="#c2d4e8"/><rect x="426.98" y="346.91" width="14.48" height="2.29" fill="#efb59d"/><rect x="441.16" y="346.91" width="14.48" height="2.29" fill="#d16c58"/><rect x="455.34" y="346.91" width="14.48" height="2.29" fill="#e18b71"/><rect x="469.52" y="346.91" width="14.48" height="2.29" fill="#bacfe7"/><rect x="483.70" y="346.91" width="14.48" height="2.29" fill="#e7cbc1"/><rect x="497.88" y="346.91" width="14.48" height="2.29" fill="#c3d4e8"/><rect x="341.90" y="348.90" width="14.48" height="2.29" fill="#8aadd5"/><rect x="356.08" y="348.90" width="14.48" height="2.29" fill="#a8c3e2"/><rect x="370.26" y="348.90" width="14.48" height="2.29" fill="#b0c9e6"/><rect x="384.44" y="348.90" width="14.48" height="2.29" fill="#b1cbe7"/><rect x="398.62" y="348.90" width="14.48" height="2.29" fill="#d6dee9"/><rect x="412.80" y="348.90" width="14.48" height="2.29" fill="#b6cde7"/><rect x="426.98" y="348.90" width="14.48" height="2.29" fill="#efb9a2"/><rect x="441.16" y="348.90" width="14.48" height="2.29" fill="#c05044"/><rect x="455.34" y="348.90" width="14.48" height="2.29" fill="#d06a57"/><rect x="469.52" y="348.90" width="14.48" height="2.29" fill="#bed1e8"/><rect x="483.70" y="348.90" width="14.48" height="2.29" fill="#e0d9db"/><rect x="497.88" y="348.90" width="14.48" height="2.29" fill="#b3cbe7"/><rect x="341.90" y="350.89" width="14.48" height="2.29" fill="#a1bedf"/><rect x="356.08" y="350.89" width="14.48" height="2.29" fill="#d4dde9"/><rect x="370.26" y="350.89" width="14.48" height="2.29" fill="#6e95c7"/><rect x="384.44" y="350.89" width="14.48" height="2.29" fill="#b3cbe7"/><rect x="398.62" y="350.89" width="14.48" height="2.29" fill="#9ebcde"/><rect x="412.80" y="350.89" width="14.48" height="2.29" fill="#a7c3e2"/><rect x="426.98" y="350.89" width="14.48" height="2.29" fill="#e69980"/><rect x="441.16" y="350.89" width="14.48" height="2.29" fill="#e2d4d2"/><rect x="455.34" y="350.89" width="14.48" height="2.29" fill="#d7765f"/><rect x="469.52" y="350.89" width="14.48" height="2.29" fill="#94b4d9"/><rect x="483.70" y="350.89" width="14.48" height="2.29" fill="#aec8e5"/><rect x="497.88" y="350.89" width="14.48" height="2.29" fill="#9bbadd"/><rect x="341.90" y="352.89" width="14.48" height="2.29" fill="#aac5e4"/><rect x="356.08" y="352.89" width="14.48" height="2.29" fill="#82a6d1"/><rect x="370.26" y="352.89" width="14.48" height="2.29" fill="#bfd2e8"/><rect x="384.44" y="352.89" width="14.48" height="2.29" fill="#e8c8bd"/><rect x="398.62" y="352.89" width="14.48" height="2.29" fill="#ecbfad"/><rect x="412.80" y="352.89" width="14.48" height="2.29" fill="#dddee4"/><rect x="426.98" y="352.89" width="14.48" height="2.29" fill="#eaa68e"/><rect x="441.16" y="352.89" width="14.48" height="2.29" fill="#eebda8"/><rect x="455.34" y="352.89" width="14.48" height="2.29" fill="#ebaa91"/><rect x="469.52" y="352.89" width="14.48" height="2.29" fill="#abc5e4"/><rect x="483.70" y="352.89" width="14.48" height="2.29" fill="#bcd0e7"/><rect x="497.88" y="352.89" width="14.48" height="2.29" fill="#bacfe7"/><rect x="341.90" y="354.88" width="14.48" height="2.29" fill="#c1d3e8"/><rect x="356.08" y="354.88" width="14.48" height="2.29" fill="#82a6d1"/><rect x="370.26" y="354.88" width="14.48" height="2.29" fill="#c5d5e8"/><rect x="384.44" y="354.88" width="14.48" height="2.29" fill="#dae0e9"/><rect x="398.62" y="354.88" width="14.48" height="2.29" fill="#e79e85"/><rect x="412.80" y="354.88" width="14.48" height="2.29" fill="#eac5b7"/><rect x="426.98" y="354.88" width="14.48" height="2.29" fill="#e8a188"/><rect x="441.16" y="354.88" width="14.48" height="2.29" fill="#eeb29a"/><rect x="455.34" y="354.88" width="14.48" height="2.29" fill="#e5987e"/><rect x="469.52" y="354.88" width="14.48" height="2.29" fill="#bfd2e8"/><rect x="483.70" y="354.88" width="14.48" height="2.29" fill="#aec8e5"/><rect x="497.88" y="354.88" width="14.48" height="2.29" fill="#b9cfe7"/><rect x="341.90" y="356.88" width="14.48" height="2.29" fill="#8eb0d7"/><rect x="356.08" y="356.88" width="14.48" height="2.29" fill="#6c94c6"/><rect x="370.26" y="356.88" width="14.48" height="2.29" fill="#8eb0d7"/><rect x="384.44" y="356.88" width="14.48" height="2.29" fill="#edbfac"/><rect x="398.62" y="356.88" width="14.48" height="2.29" fill="#edaf97"/><rect x="412.80" y="356.88" width="14.48" height="2.29" fill="#c3d4e8"/><rect x="426.98" y="356.88" width="14.48" height="2.29" fill="#e3d2ce"/><rect x="441.16" y="356.88" width="14.48" height="2.29" fill="#bdd1e8"/><rect x="455.34" y="356.88" width="14.48" height="2.29" fill="#d0dbe8"/><rect x="469.52" y="356.88" width="14.48" height="2.29" fill="#e9c6b9"/><rect x="483.70" y="356.88" width="14.48" height="2.29" fill="#e6ccc3"/><rect x="497.88" y="356.88" width="14.48" height="2.29" fill="#e5987e"/><rect x="341.90" y="358.87" width="14.48" height="2.29" fill="#d97a62"/><rect x="356.08" y="358.87" width="14.48" height="2.29" fill="#c05044"/><rect x="370.26" y="358.87" width="14.48" height="2.29" fill="#c05044"/><rect x="384.44" y="358.87" width="14.48" height="2.29" fill="#ebc2b2"/><rect x="398.62" y="358.87" width="14.48" height="2.29" fill="#d4dde9"/><rect x="412.80" y="358.87" width="14.48" height="2.29" fill="#bbd0e7"/><rect x="426.98" y="358.87" width="14.48" height="2.29" fill="#b6cde7"/><rect x="441.16" y="358.87" width="14.48" height="2.29" fill="#c5d5e8"/><rect x="455.34" y="358.87" width="14.48" height="2.29" fill="#cfdae8"/><rect x="469.52" y="358.87" width="14.48" height="2.29" fill="#e0d9da"/><rect x="483.70" y="358.87" width="14.48" height="2.29" fill="#afc9e6"/><rect x="497.88" y="358.87" width="14.48" height="2.29" fill="#bfd2e8"/><rect x="341.90" y="360.86" width="14.48" height="2.29" fill="#e79d84"/><rect x="356.08" y="360.86" width="14.48" height="2.29" fill="#c05044"/><rect x="370.26" y="360.86" width="14.48" height="2.29" fill="#c65a4c"/><rect x="384.44" y="360.86" width="14.48" height="2.29" fill="#dfdce0"/><rect x="398.62" y="360.86" width="14.48" height="2.29" fill="#cad8e8"/><rect x="412.80" y="360.86" width="14.48" height="2.29" fill="#bcd0e7"/><rect x="426.98" y="360.86" width="14.48" height="2.29" fill="#9dbbdd"/><rect x="441.16" y="360.86" width="14.48" height="2.29" fill="#bcd0e7"/><rect x="455.34" y="360.86" width="14.48" height="2.29" fill="#98b7db"/><rect x="469.52" y="360.86" width="14.48" height="2.29" fill="#e2d4d1"/><rect x="483.70" y="360.86" width="14.48" height="2.29" fill="#aac5e3"/><rect x="497.88" y="360.86" width="14.48" height="2.29" fill="#9bbadd"/><rect x="341.90" y="362.86" width="14.48" height="2.29" fill="#dd8066"/><rect x="356.08" y="362.86" width="14.48" height="2.29" fill="#ca6050"/><rect x="370.26" y="362.86" width="14.48" height="2.29" fill="#c6594b"/><rect x="384.44" y="362.86" width="14.48" height="2.29" fill="#b3cce7"/><rect x="398.62" y="362.86" width="14.48" height="2.29" fill="#adc8e5"/><rect x="412.80" y="362.86" width="14.48" height="2.29" fill="#88abd4"/><rect x="426.98" y="362.86" width="14.48" height="2.29" fill="#aac5e3"/><rect x="441.16" y="362.86" width="14.48" height="2.29" fill="#dddee4"/><rect x="455.34" y="362.86" width="14.48" height="2.29" fill="#dde0e7"/><rect x="469.52" y="362.86" width="14.48" height="2.29" fill="#bcd0e7"/><rect x="483.70" y="362.86" width="14.48" height="2.29" fill="#a7c2e2"/><rect x="497.88" y="362.86" width="14.48" height="2.29" fill="#cedae8"/><rect x="341.90" y="364.85" width="14.48" height="2.29" fill="#d6755f"/><rect x="356.08" y="364.85" width="14.48" height="2.29" fill="#c05044"/><rect x="370.26" y="364.85" width="14.48" height="2.29" fill="#c05044"/><rect x="384.44" y="364.85" width="14.48" height="2.29" fill="#bbd0e7"/><rect x="398.62" y="364.85" width="14.48" height="2.29" fill="#b2cbe7"/><rect x="412.80" y="364.85" width="14.48" height="2.29" fill="#c5d5e8"/><rect x="426.98" y="364.85" width="14.48" height="2.29" fill="#bed1e8"/><rect x="441.16" y="364.85" width="14.48" height="2.29" fill="#cdd9e8"/><rect x="455.34" y="364.85" width="14.48" height="2.29" fill="#d6dee9"/><rect x="469.52" y="364.85" width="14.48" height="2.29" fill="#bfd2e8"/><rect x="483.70" y="364.85" width="14.48" height="2.29" fill="#bbd0e7"/><rect x="497.88" y="364.85" width="14.48" height="2.29" fill="#bdd1e8"/><rect x="341.90" y="366.85" width="14.48" height="2.29" fill="#c05044"/><rect x="356.08" y="366.85" width="14.48" height="2.29" fill="#c05044"/><rect x="370.26" y="366.85" width="14.48" height="2.29" fill="#de8369"/><rect x="384.44" y="366.85" width="14.48" height="2.29" fill="#b3cce7"/><rect x="398.62" y="366.85" width="14.48" height="2.29" fill="#bcd0e7"/><rect x="412.80" y="366.85" width="14.48" height="2.29" fill="#c1d3e8"/><rect x="426.98" y="366.85" width="14.48" height="2.29" fill="#c1d3e8"/><rect x="441.16" y="366.85" width="14.48" height="2.29" fill="#c9d7e8"/><rect x="455.34" y="366.85" width="14.48" height="2.29" fill="#b2cbe7"/><rect x="469.52" y="366.85" width="14.48" height="2.29" fill="#c6d5e8"/><rect x="483.70" y="366.85" width="14.48" height="2.29" fill="#bdd1e8"/><rect x="497.88" y="366.85" width="14.48" height="2.29" fill="#abc6e4"/><rect x="341.90" y="368.84" width="14.48" height="2.29" fill="#c05044"/><rect x="356.08" y="368.84" width="14.48" height="2.29" fill="#d87961"/><rect x="370.26" y="368.84" width="14.48" height="2.29" fill="#e18b71"/><rect x="384.44" y="368.84" width="14.48" height="2.29" fill="#92b2d8"/><rect x="398.62" y="368.84" width="14.48" height="2.29" fill="#a7c3e2"/><rect x="412.80" y="368.84" width="14.48" height="2.29" fill="#a8c3e2"/><rect x="426.98" y="368.84" width="14.48" height="2.29" fill="#dce1e9"/><rect x="441.16" y="368.84" width="14.48" height="2.29" fill="#e8c8bc"/><rect x="455.34" y="368.84" width="14.48" height="2.29" fill="#e0dadc"/><rect x="469.52" y="368.84" width="14.48" height="2.29" fill="#dddfe5"/><rect x="483.70" y="368.84" width="14.48" height="2.29" fill="#a5c1e1"/><rect x="497.88" y="368.84" width="14.48" height="2.29" fill="#a1bedf"/><rect x="341.90" y="370.83" width="14.48" height="2.29" fill="#e18c72"/><rect x="356.08" y="370.83" width="14.48" height="2.29" fill="#c05044"/><rect x="370.26" y="370.83" width="14.48" height="2.29" fill="#edbfac"/><rect x="384.44" y="370.83" width="14.48" height="2.29" fill="#a8c3e2"/><rect x="398.62" y="370.83" width="14.48" height="2.29" fill="#bdd1e8"/><rect x="412.80" y="370.83" width="14.48" height="2.29" fill="#b1cae6"/><rect x="426.98" y="370.83" width="14.48" height="2.29" fill="#a0bddf"/><rect x="441.16" y="370.83" width="14.48" height="2.29" fill="#bfd2e8"/><rect x="455.34" y="370.83" width="14.48" height="2.29" fill="#d6dee9"/><rect x="469.52" y="370.83" width="14.48" height="2.29" fill="#e8c9be"/><rect x="483.70" y="370.83" width="14.48" height="2.29" fill="#b4cce7"/><rect x="497.88" y="370.83" width="14.48" height="2.29" fill="#b6cde7"/><rect x="341.90" y="372.83" width="14.48" height="2.29" fill="#da7c64"/><rect x="356.08" y="372.83" width="14.48" height="2.29" fill="#c05044"/><rect x="370.26" y="372.83" width="14.48" height="2.29" fill="#eac5b7"/><rect x="384.44" y="372.83" width="14.48" height="2.29" fill="#94b4d9"/><rect x="398.62" y="372.83" width="14.48" height="2.29" fill="#90b1d7"/><rect x="412.80" y="372.83" width="14.48" height="2.29" fill="#adc7e5"/><rect x="426.98" y="372.83" width="14.48" height="2.29" fill="#bdd1e8"/><rect x="441.16" y="372.83" width="14.48" height="2.29" fill="#bbd0e7"/><rect x="455.34" y="372.83" width="14.48" height="2.29" fill="#e2d4d2"/><rect x="469.52" y="372.83" width="14.48" height="2.29" fill="#e8a087"/><rect x="483.70" y="372.83" width="14.48" height="2.29" fill="#afc9e6"/><rect x="497.88" y="372.83" width="14.48" height="2.29" fill="#bbd0e7"/><rect x="341.90" y="374.82" width="14.48" height="2.29" fill="#d6dee9"/><rect x="356.08" y="374.82" width="14.48" height="2.29" fill="#c75b4c"/><rect x="370.26" y="374.82" width="14.48" height="2.29" fill="#e5967c"/><rect x="384.44" y="374.82" width="14.48" height="2.29" fill="#9dbbdd"/><rect x="398.62" y="374.82" width="14.48" height="2.29" fill="#94b4d9"/><rect x="412.80" y="374.82" width="14.48" height="2.29" fill="#a4c1e1"/><rect x="426.98" y="374.82" width="14.48" height="2.29" fill="#b3cbe7"/><rect x="441.16" y="374.82" width="14.48" height="2.29" fill="#9ebcde"/><rect x="455.34" y="374.82" width="14.48" height="2.29" fill="#a9c4e3"/><rect x="469.52" y="374.82" width="14.48" height="2.29" fill="#e6cdc6"/><rect x="483.70" y="374.82" width="14.48" height="2.29" fill="#d1dbe8"/><rect x="497.88" y="374.82" width="14.48" height="2.29" fill="#96b5da"/><rect x="341.90" y="376.82" width="14.48" height="2.29" fill="#c05044"/><rect x="356.08" y="376.82" width="14.48" height="2.29" fill="#edaf96"/><rect x="370.26" y="376.82" width="14.48" height="2.29" fill="#eebca6"/><rect x="384.44" y="376.82" width="14.48" height="2.29" fill="#a7c2e2"/><rect x="398.62" y="376.82" width="14.48" height="2.29" fill="#84a8d2"/><rect x="412.80" y="376.82" width="14.48" height="2.29" fill="#c2d3e8"/><rect x="426.98" y="376.82" width="14.48" height="2.29" fill="#c8d7e8"/><rect x="441.16" y="376.82" width="14.48" height="2.29" fill="#b2cbe7"/><rect x="455.34" y="376.82" width="14.48" height="2.29" fill="#92b3d8"/><rect x="469.52" y="376.82" width="14.48" height="2.29" fill="#e2d5d3"/><rect x="483.70" y="376.82" width="14.48" height="2.29" fill="#bacfe7"/><rect x="497.88" y="376.82" width="14.48" height="2.29" fill="#e9c6ba"/><rect x="341.90" y="378.81" width="14.48" height="2.29" fill="#c65a4b"/><rect x="356.08" y="378.81" width="14.48" height="2.29" fill="#e9a28a"/><rect x="370.26" y="378.81" width="14.48" height="2.29" fill="#eba890"/><rect x="384.44" y="378.81" width="14.48" height="2.29" fill="#bcd0e7"/><rect x="398.62" y="378.81" width="14.48" height="2.29" fill="#6d95c7"/><rect x="412.80" y="378.81" width="14.48" height="2.29" fill="#bcd0e7"/><rect x="426.98" y="378.81" width="14.48" height="2.29" fill="#bdd1e8"/><rect x="441.16" y="378.81" width="14.48" height="2.29" fill="#a5c1e1"/><rect x="455.34" y="378.81" width="14.48" height="2.29" fill="#94b4d9"/><rect x="469.52" y="378.81" width="14.48" height="2.29" fill="#dedde2"/><rect x="483.70" y="378.81" width="14.48" height="2.29" fill="#b3cbe7"/><rect x="497.88" y="378.81" width="14.48" height="2.29" fill="#edbda9"/><rect x="341.90" y="380.80" width="14.48" height="2.29" fill="#e4957b"/><rect x="356.08" y="380.80" width="14.48" height="2.29" fill="#c05044"/><rect x="370.26" y="380.80" width="14.48" height="2.29" fill="#e18b71"/><rect x="384.44" y="380.80" width="14.48" height="2.29" fill="#aac5e4"/><rect x="398.62" y="380.80" width="14.48" height="2.29" fill="#759ccb"/><rect x="412.80" y="380.80" width="14.48" height="2.29" fill="#a0bddf"/><rect x="426.98" y="380.80" width="14.48" height="2.29" fill="#ccd9e8"/><rect x="441.16" y="380.80" width="14.48" height="2.29" fill="#739aca"/><rect x="455.34" y="380.80" width="14.48" height="2.29" fill="#85a9d2"/><rect x="469.52" y="380.80" width="14.48" height="2.29" fill="#eac4b6"/><rect x="483.70" y="380.80" width="14.48" height="2.29" fill="#b3cbe7"/><rect x="497.88" y="380.80" width="14.48" height="2.29" fill="#e8a087"/><rect x="341.90" y="382.80" width="14.48" height="2.29" fill="#ecad95"/><rect x="356.08" y="382.80" width="14.48" height="2.29" fill="#d26e5a"/><rect x="370.26" y="382.80" width="14.48" height="2.29" fill="#edaf96"/><rect x="384.44" y="382.80" width="14.48" height="2.29" fill="#b0c9e6"/><rect x="398.62" y="382.80" width="14.48" height="2.29" fill="#c9d7e8"/><rect x="412.80" y="382.80" width="14.48" height="2.29" fill="#b5cde7"/><rect x="426.98" y="382.80" width="14.48" height="2.29" fill="#b9cfe7"/><rect x="441.16" y="382.80" width="14.48" height="2.29" fill="#82a7d1"/><rect x="455.34" y="382.80" width="14.48" height="2.29" fill="#6992c5"/><rect x="469.52" y="382.80" width="14.48" height="2.29" fill="#eeb39b"/><rect x="483.70" y="382.80" width="14.48" height="2.29" fill="#e2d5d4"/><rect x="497.88" y="382.80" width="14.48" height="2.29" fill="#eba88f"/><rect x="341.90" y="384.79" width="14.48" height="2.29" fill="#e5cec8"/><rect x="356.08" y="384.79" width="14.48" height="2.29" fill="#df846a"/><rect x="370.26" y="384.79" width="14.48" height="2.29" fill="#eeb29a"/><rect x="384.44" y="384.79" width="14.48" height="2.29" fill="#b4cce7"/><rect x="398.62" y="384.79" width="14.48" height="2.29" fill="#9cbadd"/><rect x="412.80" y="384.79" width="14.48" height="2.29" fill="#b3cbe7"/><rect x="426.98" y="384.79" width="14.48" height="2.29" fill="#b0c9e6"/><rect x="441.16" y="384.79" width="14.48" height="2.29" fill="#81a6d1"/><rect x="455.34" y="384.79" width="14.48" height="2.29" fill="#608ac0"/><rect x="469.52" y="384.79" width="14.48" height="2.29" fill="#ebc2b2"/><rect x="483.70" y="384.79" width="14.48" height="2.29" fill="#d8dfe9"/><rect x="497.88" y="384.79" width="14.48" height="2.29" fill="#eeb29a"/><rect x="341.90" y="386.79" width="14.48" height="2.29" fill="#e79e85"/><rect x="356.08" y="386.79" width="14.48" height="2.29" fill="#e18a70"/><rect x="370.26" y="386.79" width="14.48" height="2.29" fill="#efbaa4"/><rect x="384.44" y="386.79" width="14.48" height="2.29" fill="#95b5da"/><rect x="398.62" y="386.79" width="14.48" height="2.29" fill="#a4c0e1"/><rect x="412.80" y="386.79" width="14.48" height="2.29" fill="#b4cce7"/><rect x="426.98" y="386.79" width="14.48" height="2.29" fill="#7ea3cf"/><rect x="441.16" y="386.79" width="14.48" height="2.29" fill="#81a5d0"/><rect x="455.34" y="386.79" width="14.48" height="2.29" fill="#739aca"/><rect x="469.52" y="386.79" width="14.48" height="2.29" fill="#edb098"/><rect x="483.70" y="386.79" width="14.48" height="2.29" fill="#e9a38b"/><rect x="497.88" y="386.79" width="14.48" height="2.29" fill="#e18b71"/><rect x="341.90" y="388.78" width="14.48" height="2.29" fill="#e79c83"/><rect x="356.08" y="388.78" width="14.48" height="2.29" fill="#db7e65"/><rect x="370.26" y="388.78" width="14.48" height="2.29" fill="#edbdaa"/><rect x="384.44" y="388.78" width="14.48" height="2.29" fill="#a0bedf"/><rect x="398.62" y="388.78" width="14.48" height="2.29" fill="#bacfe7"/><rect x="412.80" y="388.78" width="14.48" height="2.29" fill="#b4cce7"/><rect x="426.98" y="388.78" width="14.48" height="2.29" fill="#84a8d2"/><rect x="441.16" y="388.78" width="14.48" height="2.29" fill="#6c94c6"/><rect x="455.34" y="388.78" width="14.48" height="2.29" fill="#7da2cf"/><rect x="469.52" y="388.78" width="14.48" height="2.29" fill="#f0b79f"/><rect x="483.70" y="388.78" width="14.48" height="2.29" fill="#e6cdc5"/><rect x="497.88" y="388.78" width="14.48" height="2.29" fill="#db7d64"/><rect x="341.90" y="390.77" width="14.48" height="2.29" fill="#e8c8bd"/><rect x="356.08" y="390.77" width="14.48" height="2.29" fill="#dedce1"/><rect x="370.26" y="390.77" width="14.48" height="2.29" fill="#dedce0"/><rect x="384.44" y="390.77" width="14.48" height="2.29" fill="#e69980"/><rect x="398.62" y="390.77" width="14.48" height="2.29" fill="#e5987f"/><rect x="412.80" y="390.77" width="14.48" height="2.29" fill="#e9c6b9"/><rect x="426.98" y="390.77" width="14.48" height="2.29" fill="#a2bfe0"/><rect x="441.16" y="390.77" width="14.48" height="2.29" fill="#91b2d8"/><rect x="455.34" y="390.77" width="14.48" height="2.29" fill="#6790c4"/><rect x="469.52" y="390.77" width="14.48" height="2.29" fill="#ecc0af"/><rect x="483.70" y="390.77" width="14.48" height="2.29" fill="#e69b82"/><rect x="497.88" y="390.77" width="14.48" height="2.29" fill="#df856b"/><rect x="341.90" y="392.77" width="14.48" height="2.29" fill="#d2dce9"/><rect x="356.08" y="392.77" width="14.48" height="2.29" fill="#efb49c"/><rect x="370.26" y="392.77" width="14.48" height="2.29" fill="#f0b8a0"/><rect x="384.44" y="392.77" width="14.48" height="2.29" fill="#e6ccc3"/><rect x="398.62" y="392.77" width="14.48" height="2.29" fill="#e39279"/><rect x="412.80" y="392.77" width="14.48" height="2.29" fill="#e5987f"/><rect x="426.98" y="392.77" width="14.48" height="2.29" fill="#99b8dc"/><rect x="441.16" y="392.77" width="14.48" height="2.29" fill="#799fcd"/><rect x="455.34" y="392.77" width="14.48" height="2.29" fill="#8aadd5"/><rect x="469.52" y="392.77" width="14.48" height="2.29" fill="#e8a188"/><rect x="483.70" y="392.77" width="14.48" height="2.29" fill="#e5cfca"/><rect x="497.88" y="392.77" width="14.48" height="2.29" fill="#eba88f"/><rect x="341.90" y="394.76" width="14.48" height="2.29" fill="#dce0e8"/><rect x="356.08" y="394.76" width="14.48" height="2.29" fill="#ebaa91"/><rect x="370.26" y="394.76" width="14.48" height="2.29" fill="#edb097"/><rect x="384.44" y="394.76" width="14.48" height="2.29" fill="#eba990"/><rect x="398.62" y="394.76" width="14.48" height="2.29" fill="#c05044"/><rect x="412.80" y="394.76" width="14.48" height="2.29" fill="#e0886e"/><rect x="426.98" y="394.76" width="14.48" height="2.29" fill="#9cbadd"/><rect x="441.16" y="394.76" width="14.48" height="2.29" fill="#85a8d2"/><rect x="455.34" y="394.76" width="14.48" height="2.29" fill="#a6c2e1"/><rect x="469.52" y="394.76" width="14.48" height="2.29" fill="#e39178"/><rect x="483.70" y="394.76" width="14.48" height="2.29" fill="#e0d8d9"/><rect x="497.88" y="394.76" width="14.48" height="2.29" fill="#df856b"/><rect x="341.90" y="396.76" width="14.48" height="2.29" fill="#e9a38b"/><rect x="356.08" y="396.76" width="14.48" height="2.29" fill="#dedde1"/><rect x="370.26" y="396.76" width="14.48" height="2.29" fill="#edbeaa"/><rect x="384.44" y="396.76" width="14.48" height="2.29" fill="#d8dfe9"/><rect x="398.62" y="396.76" width="14.48" height="2.29" fill="#de8369"/><rect x="412.80" y="396.76" width="14.48" height="2.29" fill="#d87961"/><rect x="426.98" y="396.76" width="14.48" height="2.29" fill="#86aad3"/><rect x="441.16" y="396.76" width="14.48" height="2.29" fill="#a3c0e0"/><rect x="455.34" y="396.76" width="14.48" height="2.29" fill="#83a7d1"/><rect x="469.52" y="396.76" width="14.48" height="2.29" fill="#adc7e5"/><rect x="483.70" y="396.76" width="14.48" height="2.29" fill="#d4dde9"/><rect x="497.88" y="396.76" width="14.48" height="2.29" fill="#d4dde9"/><rect x="341.90" y="398.75" width="14.48" height="2.29" fill="#e4d0cb"/><rect x="356.08" y="398.75" width="14.48" height="2.29" fill="#d9e0e9"/><rect x="370.26" y="398.75" width="14.48" height="2.29" fill="#eac4b6"/><rect x="384.44" y="398.75" width="14.48" height="2.29" fill="#cdd9e8"/><rect x="398.62" y="398.75" width="14.48" height="2.29" fill="#e28e74"/><rect x="412.80" y="398.75" width="14.48" height="2.29" fill="#de8369"/><rect x="426.98" y="398.75" width="14.48" height="2.29" fill="#7fa4cf"/><rect x="441.16" y="398.75" width="14.48" height="2.29" fill="#80a5d0"/><rect x="455.34" y="398.75" width="14.48" height="2.29" fill="#739ac9"/><rect x="469.52" y="398.75" width="14.48" height="2.29" fill="#a0bddf"/><rect x="483.70" y="398.75" width="14.48" height="2.29" fill="#c6d5e8"/><rect x="497.88" y="398.75" width="14.48" height="2.29" fill="#ced9e8"/><rect x="341.90" y="400.74" width="14.48" height="2.29" fill="#d0dbe8"/><rect x="356.08" y="400.74" width="14.48" height="2.29" fill="#ebc1b1"/><rect x="370.26" y="400.74" width="14.48" height="2.29" fill="#d2dce9"/><rect x="384.44" y="400.74" width="14.48" height="2.29" fill="#d1dbe8"/><rect x="398.62" y="400.74" width="14.48" height="2.29" fill="#e4937a"/><rect x="412.80" y="400.74" width="14.48" height="2.29" fill="#d87961"/><rect x="426.98" y="400.74" width="14.48" height="2.29" fill="#7aa0cd"/><rect x="441.16" y="400.74" width="14.48" height="2.29" fill="#608ac0"/><rect x="455.34" y="400.74" width="14.48" height="2.29" fill="#7fa4d0"/><rect x="469.52" y="400.74" width="14.48" height="2.29" fill="#c8d6e8"/><rect x="483.70" y="400.74" width="14.48" height="2.29" fill="#9cbadd"/><rect x="497.88" y="400.74" width="14.48" height="2.29" fill="#abc6e4"/><rect x="341.90" y="402.74" width="14.48" height="2.29" fill="#7aa0cd"/><rect x="356.08" y="402.74" width="14.48" height="2.29" fill="#eac4b5"/><rect x="370.26" y="402.74" width="14.48" height="2.29" fill="#eebba6"/><rect x="384.44" y="402.74" width="14.48" height="2.29" fill="#dfdadd"/><rect x="398.62" y="402.74" width="14.48" height="2.29" fill="#e9a38b"/><rect x="412.80" y="402.74" width="14.48" height="2.29" fill="#e28d73"/><rect x="426.98" y="402.74" width="14.48" height="2.29" fill="#638cc1"/><rect x="441.16" y="402.74" width="14.48" height="2.29" fill="#6e96c7"/><rect x="455.34" y="402.74" width="14.48" height="2.29" fill="#6b93c5"/><rect x="469.52" y="402.74" width="14.48" height="2.29" fill="#cad8e8"/><rect x="483.70" y="402.74" width="14.48" height="2.29" fill="#b5cde7"/><rect x="497.88" y="402.74" width="14.48" height="2.29" fill="#d7dee9"/><rect x="341.90" y="404.73" width="14.48" height="2.29" fill="#b4cce7"/><rect x="356.08" y="404.73" width="14.48" height="2.29" fill="#eebda9"/><rect x="370.26" y="404.73" width="14.48" height="2.29" fill="#e3d2ce"/><rect x="384.44" y="404.73" width="14.48" height="2.29" fill="#efbba5"/><rect x="398.62" y="404.73" width="14.48" height="2.29" fill="#e5987f"/><rect x="412.80" y="404.73" width="14.48" height="2.29" fill="#df846a"/><rect x="426.98" y="404.73" width="14.48" height="2.29" fill="#7aa0cd"/><rect x="441.16" y="404.73" width="14.48" height="2.29" fill="#80a4d0"/><rect x="455.34" y="404.73" width="14.48" height="2.29" fill="#81a5d0"/><rect x="469.52" y="404.73" width="14.48" height="2.29" fill="#e0d9dc"/><rect x="483.70" y="404.73" width="14.48" height="2.29" fill="#e0d9dc"/><rect x="497.88" y="404.73" width="14.48" height="2.29" fill="#cfdae8"/><rect x="341.90" y="406.73" width="14.48" height="2.29" fill="#e4d0cb"/><rect x="356.08" y="406.73" width="14.48" height="2.29" fill="#dfdbdf"/><rect x="370.26" y="406.73" width="14.48" height="2.29" fill="#ecc1af"/><rect x="384.44" y="406.73" width="14.48" height="2.29" fill="#df846a"/><rect x="398.62" y="406.73" width="14.48" height="2.29" fill="#e0876e"/><rect x="412.80" y="406.73" width="14.48" height="2.29" fill="#d6755f"/><rect x="426.98" y="406.73" width="14.48" height="2.29" fill="#84a8d2"/><rect x="441.16" y="406.73" width="14.48" height="2.29" fill="#89acd4"/><rect x="455.34" y="406.73" width="14.48" height="2.29" fill="#a0bedf"/><rect x="469.52" y="406.73" width="14.48" height="2.29" fill="#ccd8e8"/><rect x="483.70" y="406.73" width="14.48" height="2.29" fill="#a5c1e1"/><rect x="497.88" y="406.73" width="14.48" height="2.29" fill="#9cbadd"/><rect x="341.90" y="408.72" width="14.48" height="2.29" fill="#d7dfe9"/><rect x="356.08" y="408.72" width="14.48" height="2.29" fill="#ebc3b4"/><rect x="370.26" y="408.72" width="14.48" height="2.29" fill="#dedde1"/><rect x="384.44" y="408.72" width="14.48" height="2.29" fill="#eeb39b"/><rect x="398.62" y="408.72" width="14.48" height="2.29" fill="#e9a289"/><rect x="412.80" y="408.72" width="14.48" height="2.29" fill="#dc7f66"/><rect x="426.98" y="408.72" width="14.48" height="2.29" fill="#82a6d1"/><rect x="441.16" y="408.72" width="14.48" height="2.29" fill="#80a5d0"/><rect x="455.34" y="408.72" width="14.48" height="2.29" fill="#80a5d0"/><rect x="469.52" y="408.72" width="14.48" height="2.29" fill="#ced9e8"/><rect x="483.70" y="408.72" width="14.48" height="2.29" fill="#cdd9e8"/><rect x="497.88" y="408.72" width="14.48" height="2.29" fill="#e9c6b9"/><rect x="341.90" y="410.71" width="14.48" height="2.29" fill="#dfdbdf"/><rect x="356.08" y="410.71" width="14.48" height="2.29" fill="#eba991"/><rect x="370.26" y="410.71" width="14.48" height="2.29" fill="#e8c9be"/><rect x="384.44" y="410.71" width="14.48" height="2.29" fill="#e0896f"/><rect x="398.62" y="410.71" width="14.48" height="2.29" fill="#de8369"/><rect x="412.80" y="410.71" width="14.48" height="2.29" fill="#d4715c"/><rect x="426.98" y="410.71" width="14.48" height="2.29" fill="#89acd4"/><rect x="441.16" y="410.71" width="14.48" height="2.29" fill="#8badd5"/><rect x="455.34" y="410.71" width="14.48" height="2.29" fill="#a8c3e2"/><rect x="469.52" y="410.71" width="14.48" height="2.29" fill="#e2d5d3"/><rect x="483.70" y="410.71" width="14.48" height="2.29" fill="#dddee4"/><rect x="497.88" y="410.71" width="14.48" height="2.29" fill="#e79d84"/><rect x="341.90" y="412.71" width="14.48" height="2.29" fill="#ecab92"/><rect x="356.08" y="412.71" width="14.48" height="2.29" fill="#d3705b"/><rect x="370.26" y="412.71" width="14.48" height="2.29" fill="#e5987f"/><rect x="384.44" y="412.71" width="14.48" height="2.29" fill="#e9a48b"/><rect x="398.62" y="412.71" width="14.48" height="2.29" fill="#edaf97"/><rect x="412.80" y="412.71" width="14.48" height="2.29" fill="#eac4b6"/><rect x="426.98" y="412.71" width="14.48" height="2.29" fill="#98b7db"/><rect x="441.16" y="412.71" width="14.48" height="2.29" fill="#a4c0e1"/><rect x="455.34" y="412.71" width="14.48" height="2.29" fill="#93b4d9"/><rect x="469.52" y="412.71" width="14.48" height="2.29" fill="#e4d1cd"/><rect x="483.70" y="412.71" width="14.48" height="2.29" fill="#cbd8e8"/><rect x="497.88" y="412.71" width="14.48" height="2.29" fill="#ecac94"/><rect x="341.90" y="414.70" width="14.48" height="2.29" fill="#e8c7bc"/><rect x="356.08" y="414.70" width="14.48" height="2.29" fill="#e0886f"/><rect x="370.26" y="414.70" width="14.48" height="2.29" fill="#eac4b5"/><rect x="384.44" y="414.70" width="14.48" height="2.29" fill="#efb69e"/><rect x="398.62" y="414.70" width="14.48" height="2.29" fill="#cdd9e8"/><rect x="412.80" y="414.70" width="14.48" height="2.29" fill="#c9d7e8"/><rect x="426.98" y="414.70" width="14.48" height="2.29" fill="#7198c8"/><rect x="441.16" y="414.70" width="14.48" height="2.29" fill="#6a92c5"/><rect x="455.34" y="414.70" width="14.48" height="2.29" fill="#83a7d1"/><rect x="469.52" y="414.70" width="14.48" height="2.29" fill="#b9cfe7"/><rect x="483.70" y="414.70" width="14.48" height="2.29" fill="#9ab8dc"/><rect x="497.88" y="414.70" width="14.48" height="2.29" fill="#c1d3e8"/><rect x="341.90" y="416.70" width="14.48" height="2.29" fill="#bbd0e7"/><rect x="356.08" y="416.70" width="14.48" height="2.29" fill="#e39178"/><rect x="370.26" y="416.70" width="14.48" height="2.29" fill="#edbeaa"/><rect x="384.44" y="416.70" width="14.48" height="2.29" fill="#e0896f"/><rect x="398.62" y="416.70" width="14.48" height="2.29" fill="#dddee4"/><rect x="412.80" y="416.70" width="14.48" height="2.29" fill="#ecc1b0"/><rect x="426.98" y="416.70" width="14.48" height="2.29" fill="#a2bfe0"/><rect x="441.16" y="416.70" width="14.48" height="2.29" fill="#81a5d0"/><rect x="455.34" y="416.70" width="14.48" height="2.29" fill="#b3cbe7"/><rect x="469.52" y="416.70" width="14.48" height="2.29" fill="#e7c9bf"/><rect x="483.70" y="416.70" width="14.48" height="2.29" fill="#c3d4e8"/><rect x="497.88" y="416.70" width="14.48" height="2.29" fill="#9dbbdd"/><rect x="341.90" y="418.69" width="14.48" height="2.29" fill="#e79c83"/><rect x="356.08" y="418.69" width="14.48" height="2.29" fill="#f0b9a1"/><rect x="370.26" y="418.69" width="14.48" height="2.29" fill="#ebaa91"/><rect x="384.44" y="418.69" width="14.48" height="2.29" fill="#d06b57"/><rect x="398.62" y="418.69" width="14.48" height="2.29" fill="#e5977e"/><rect x="412.80" y="418.69" width="14.48" height="2.29" fill="#efb59d"/><rect x="426.98" y="418.69" width="14.48" height="2.29" fill="#8caed5"/><rect x="441.16" y="418.69" width="14.48" height="2.29" fill="#ccd9e8"/><rect x="455.34" y="418.69" width="14.48" height="2.29" fill="#aec8e5"/><rect x="469.52" y="418.69" width="14.48" height="2.29" fill="#e4947b"/><rect x="483.70" y="418.69" width="14.48" height="2.29" fill="#aec8e5"/><rect x="497.88" y="418.69" width="14.48" height="2.29" fill="#c1d3e8"/><rect x="341.90" y="420.68" width="14.48" height="2.29" fill="#eebba6"/><rect x="356.08" y="420.68" width="14.48" height="2.29" fill="#ebc2b2"/><rect x="370.26" y="420.68" width="14.48" height="2.29" fill="#ecc0af"/><rect x="384.44" y="420.68" width="14.48" height="2.29" fill="#df866c"/><rect x="398.62" y="420.68" width="14.48" height="2.29" fill="#e8a087"/><rect x="412.80" y="420.68" width="14.48" height="2.29" fill="#eeb199"/><rect x="426.98" y="420.68" width="14.48" height="2.29" fill="#86aad3"/><rect x="441.16" y="420.68" width="14.48" height="2.29" fill="#afc9e6"/><rect x="455.34" y="420.68" width="14.48" height="2.29" fill="#7aa0cd"/><rect x="469.52" y="420.68" width="14.48" height="2.29" fill="#edbda9"/><rect x="483.70" y="420.68" width="14.48" height="2.29" fill="#bed1e8"/><rect x="497.88" y="420.68" width="14.48" height="2.29" fill="#b9cfe7"/><rect x="341.90" y="422.68" width="14.48" height="2.29" fill="#e79d84"/><rect x="356.08" y="422.68" width="14.48" height="2.29" fill="#e5d0ca"/><rect x="370.26" y="422.68" width="14.48" height="2.29" fill="#f0b9a2"/><rect x="384.44" y="422.68" width="14.48" height="2.29" fill="#ce6754"/><rect x="398.62" y="422.68" width="14.48" height="2.29" fill="#df856b"/><rect x="412.80" y="422.68" width="14.48" height="2.29" fill="#e18a70"/><rect x="426.98" y="422.68" width="14.48" height="2.29" fill="#90b1d7"/><rect x="441.16" y="422.68" width="14.48" height="2.29" fill="#98b7db"/><rect x="455.34" y="422.68" width="14.48" height="2.29" fill="#628cc1"/><rect x="469.52" y="422.68" width="14.48" height="2.29" fill="#eba890"/><rect x="483.70" y="422.68" width="14.48" height="2.29" fill="#dfdadc"/><rect x="497.88" y="422.68" width="14.48" height="2.29" fill="#d1dbe8"/><rect x="341.90" y="424.67" width="14.48" height="2.29" fill="#eac3b4"/><rect x="356.08" y="424.67" width="14.48" height="2.29" fill="#c8d6e8"/><rect x="370.26" y="424.67" width="14.48" height="2.29" fill="#efb69e"/><rect x="384.44" y="424.67" width="14.48" height="2.29" fill="#df866d"/><rect x="398.62" y="424.67" width="14.48" height="2.29" fill="#e39076"/><rect x="412.80" y="424.67" width="14.48" height="2.29" fill="#ecac94"/><rect x="426.98" y="424.67" width="14.48" height="2.29" fill="#84a8d2"/><rect x="441.16" y="424.67" width="14.48" height="2.29" fill="#88abd4"/><rect x="455.34" y="424.67" width="14.48" height="2.29" fill="#608ac0"/><rect x="469.52" y="424.67" width="14.48" height="2.29" fill="#eebca8"/><rect x="483.70" y="424.67" width="14.48" height="2.29" fill="#d9dfe9"/><rect x="497.88" y="424.67" width="14.48" height="2.29" fill="#a0bddf"/><rect x="341.90" y="426.67" width="14.48" height="2.29" fill="#ebaa92"/><rect x="356.08" y="426.67" width="14.48" height="2.29" fill="#ced9e8"/><rect x="370.26" y="426.67" width="14.48" height="2.29" fill="#edaf97"/><rect x="384.44" y="426.67" width="14.48" height="2.29" fill="#d06b57"/><rect x="398.62" y="426.67" width="14.48" height="2.29" fill="#d87861"/><rect x="412.80" y="426.67" width="14.48" height="2.29" fill="#e79d84"/><rect x="426.98" y="426.67" width="14.48" height="2.29" fill="#87aad3"/><rect x="441.16" y="426.67" width="14.48" height="2.29" fill="#8aadd5"/><rect x="455.34" y="426.67" width="14.48" height="2.29" fill="#608ac0"/><rect x="469.52" y="426.67" width="14.48" height="2.29" fill="#eebda8"/><rect x="483.70" y="426.67" width="14.48" height="2.29" fill="#ccd9e8"/><rect x="497.88" y="426.67" width="14.48" height="2.29" fill="#adc7e5"/><rect x="341.90" y="428.66" width="14.48" height="2.29" fill="#ecad95"/><rect x="356.08" y="428.66" width="14.48" height="2.29" fill="#e9a48b"/><rect x="370.26" y="428.66" width="14.48" height="2.29" fill="#eeb39b"/><rect x="384.44" y="428.66" width="14.48" height="2.29" fill="#e28e75"/><rect x="398.62" y="428.66" width="14.48" height="2.29" fill="#edaf96"/><rect x="412.80" y="428.66" width="14.48" height="2.29" fill="#f0b79f"/><rect x="426.98" y="428.66" width="14.48" height="2.29" fill="#c9d7e8"/><rect x="441.16" y="428.66" width="14.48" height="2.29" fill="#a0bddf"/><rect x="455.34" y="428.66" width="14.48" height="2.29" fill="#93b3d9"/><rect x="469.52" y="428.66" width="14.48" height="2.29" fill="#ebc3b3"/><rect x="483.70" y="428.66" width="14.48" height="2.29" fill="#d8dfe9"/><rect x="497.88" y="428.66" width="14.48" height="2.29" fill="#b6cde7"/><rect x="341.90" y="430.65" width="14.48" height="2.29" fill="#f0b8a1"/><rect x="356.08" y="430.65" width="14.48" height="2.29" fill="#dd8067"/><rect x="370.26" y="430.65" width="14.48" height="2.29" fill="#efb49c"/><rect x="384.44" y="430.65" width="14.48" height="2.29" fill="#eebca7"/><rect x="398.62" y="430.65" width="14.48" height="2.29" fill="#e8c9be"/><rect x="412.80" y="430.65" width="14.48" height="2.29" fill="#e8c8bd"/><rect x="426.98" y="430.65" width="14.48" height="2.29" fill="#7da2cf"/><rect x="441.16" y="430.65" width="14.48" height="2.29" fill="#8eb0d7"/><rect x="455.34" y="430.65" width="14.48" height="2.29" fill="#91b2d8"/><rect x="469.52" y="430.65" width="14.48" height="2.29" fill="#dedce0"/><rect x="483.70" y="430.65" width="14.48" height="2.29" fill="#afc9e6"/><rect x="497.88" y="430.65" width="14.48" height="2.29" fill="#b3cce7"/><rect x="341.90" y="432.65" width="14.48" height="2.29" fill="#e69b82"/><rect x="356.08" y="432.65" width="14.48" height="2.29" fill="#d16d59"/><rect x="370.26" y="432.65" width="14.48" height="2.29" fill="#ebc2b2"/><rect x="384.44" y="432.65" width="14.48" height="2.29" fill="#e8a087"/><rect x="398.62" y="432.65" width="14.48" height="2.29" fill="#eba890"/><rect x="412.80" y="432.65" width="14.48" height="2.29" fill="#efb59d"/><rect x="426.98" y="432.65" width="14.48" height="2.29" fill="#93b3d9"/><rect x="441.16" y="432.65" width="14.48" height="2.29" fill="#90b1d7"/><rect x="455.34" y="432.65" width="14.48" height="2.29" fill="#8caed5"/><rect x="469.52" y="432.65" width="14.48" height="2.29" fill="#d0dbe8"/><rect x="483.70" y="432.65" width="14.48" height="2.29" fill="#bbd0e7"/><rect x="497.88" y="432.65" width="14.48" height="2.29" fill="#c0d2e8"/><rect x="341.90" y="434.64" width="14.48" height="2.29" fill="#c9d7e8"/><rect x="356.08" y="434.64" width="14.48" height="2.29" fill="#eeb299"/><rect x="370.26" y="434.64" width="14.48" height="2.29" fill="#edae95"/><rect x="384.44" y="434.64" width="14.48" height="2.29" fill="#efb69e"/><rect x="398.62" y="434.64" width="14.48" height="2.29" fill="#db7d64"/><rect x="412.80" y="434.64" width="14.48" height="2.29" fill="#eebca8"/><rect x="426.98" y="434.64" width="14.48" height="2.29" fill="#7da2ce"/><rect x="441.16" y="434.64" width="14.48" height="2.29" fill="#8aadd5"/><rect x="455.34" y="434.64" width="14.48" height="2.29" fill="#80a5d0"/><rect x="469.52" y="434.64" width="14.48" height="2.29" fill="#dddfe6"/><rect x="483.70" y="434.64" width="14.48" height="2.29" fill="#d8dfe9"/><rect x="497.88" y="434.64" width="14.48" height="2.29" fill="#bacfe7"/><rect x="341.90" y="436.64" width="14.48" height="2.29" fill="#e8c9bf"/><rect x="356.08" y="436.64" width="14.48" height="2.29" fill="#efb59d"/><rect x="370.26" y="436.64" width="14.48" height="2.29" fill="#d7765f"/><rect x="384.44" y="436.64" width="14.48" height="2.29" fill="#edbfac"/><rect x="398.62" y="436.64" width="14.48" height="2.29" fill="#df846a"/><rect x="412.80" y="436.64" width="14.48" height="2.29" fill="#e4d1cc"/><rect x="426.98" y="436.64" width="14.48" height="2.29" fill="#8daed6"/><rect x="441.16" y="436.64" width="14.48" height="2.29" fill="#7fa4d0"/><rect x="455.34" y="436.64" width="14.48" height="2.29" fill="#8eb0d7"/><rect x="469.52" y="436.64" width="14.48" height="2.29" fill="#e4d0cb"/><rect x="483.70" y="436.64" width="14.48" height="2.29" fill="#b1cae7"/><rect x="497.88" y="436.64" width="14.48" height="2.29" fill="#e2d4d3"/><rect x="341.90" y="438.63" width="14.48" height="2.29" fill="#f0b8a0"/><rect x="356.08" y="438.63" width="14.48" height="2.29" fill="#f0b9a2"/><rect x="370.26" y="438.63" width="14.48" height="2.29" fill="#e18c72"/><rect x="384.44" y="438.63" width="14.48" height="2.29" fill="#e9a289"/><rect x="398.62" y="438.63" width="14.48" height="2.29" fill="#d5735d"/><rect x="412.80" y="438.63" width="14.48" height="2.29" fill="#ebc1b1"/><rect x="426.98" y="438.63" width="14.48" height="2.29" fill="#91b2d8"/><rect x="441.16" y="438.63" width="14.48" height="2.29" fill="#7fa4cf"/><rect x="455.34" y="438.63" width="14.48" height="2.29" fill="#779dcb"/><rect x="469.52" y="438.63" width="14.48" height="2.29" fill="#e4d1cc"/><rect x="483.70" y="438.63" width="14.48" height="2.29" fill="#a4c0e1"/><rect x="497.88" y="438.63" width="14.48" height="2.29" fill="#e4d1cd"/><rect x="341.90" y="440.62" width="14.48" height="2.29" fill="#e2d5d3"/><rect x="356.08" y="440.62" width="14.48" height="2.29" fill="#edae96"/><rect x="370.26" y="440.62" width="14.48" height="2.29" fill="#e9a48b"/><rect x="384.44" y="440.62" width="14.48" height="2.29" fill="#edb098"/><rect x="398.62" y="440.62" width="14.48" height="2.29" fill="#ecad94"/><rect x="412.80" y="440.62" width="14.48" height="2.29" fill="#eeb29a"/><rect x="426.98" y="440.62" width="14.48" height="2.29" fill="#6d95c6"/><rect x="441.16" y="440.62" width="14.48" height="2.29" fill="#afc9e6"/><rect x="455.34" y="440.62" width="14.48" height="2.29" fill="#6c94c6"/><rect x="469.52" y="440.62" width="14.48" height="2.29" fill="#c6d5e8"/><rect x="483.70" y="440.62" width="14.48" height="2.29" fill="#dde0e7"/><rect x="497.88" y="440.62" width="14.48" height="2.29" fill="#dfdadd"/><rect x="341.90" y="442.62" width="14.48" height="2.29" fill="#d4dde9"/><rect x="356.08" y="442.62" width="14.48" height="2.29" fill="#df846a"/><rect x="370.26" y="442.62" width="14.48" height="2.29" fill="#ecc1af"/><rect x="384.44" y="442.62" width="14.48" height="2.29" fill="#e9c7ba"/><rect x="398.62" y="442.62" width="14.48" height="2.29" fill="#d7dee9"/><rect x="412.80" y="442.62" width="14.48" height="2.29" fill="#efbaa4"/><rect x="426.98" y="442.62" width="14.48" height="2.29" fill="#83a7d2"/><rect x="441.16" y="442.62" width="14.48" height="2.29" fill="#88abd4"/><rect x="455.34" y="442.62" width="14.48" height="2.29" fill="#6e96c7"/><rect x="469.52" y="442.62" width="14.48" height="2.29" fill="#e2d5d4"/><rect x="483.70" y="442.62" width="14.48" height="2.29" fill="#edbfac"/><rect x="497.88" y="442.62" width="14.48" height="2.29" fill="#cedae8"/><rect x="341.90" y="444.61" width="14.48" height="2.29" fill="#dddfe6"/><rect x="356.08" y="444.61" width="14.48" height="2.29" fill="#d97a62"/><rect x="370.26" y="444.61" width="14.48" height="2.29" fill="#ecc0ad"/><rect x="384.44" y="444.61" width="14.48" height="2.29" fill="#efbaa3"/><rect x="398.62" y="444.61" width="14.48" height="2.29" fill="#c6d5e8"/><rect x="412.80" y="444.61" width="14.48" height="2.29" fill="#efb9a2"/><rect x="426.98" y="444.61" width="14.48" height="2.29" fill="#80a5d0"/><rect x="441.16" y="444.61" width="14.48" height="2.29" fill="#7da2ce"/><rect x="455.34" y="444.61" width="14.48" height="2.29" fill="#8caed5"/><rect x="469.52" y="444.61" width="14.48" height="2.29" fill="#e4d0ca"/><rect x="483.70" y="444.61" width="14.48" height="2.29" fill="#ecad94"/><rect x="497.88" y="444.61" width="14.48" height="2.29" fill="#cfdae8"/><rect x="341.90" y="446.61" width="14.48" height="2.29" fill="#e1d7d7"/><rect x="356.08" y="446.61" width="14.48" height="2.29" fill="#eaa68e"/><rect x="370.26" y="446.61" width="14.48" height="2.29" fill="#edaf96"/><rect x="384.44" y="446.61" width="14.48" height="2.29" fill="#d06b57"/><rect x="398.62" y="446.61" width="14.48" height="2.29" fill="#e6cdc5"/><rect x="412.80" y="446.61" width="14.48" height="2.29" fill="#e9a48b"/><rect x="426.98" y="446.61" width="14.48" height="2.29" fill="#91b2d8"/><rect x="441.16" y="446.61" width="14.48" height="2.29" fill="#92b2d8"/><rect x="455.34" y="446.61" width="14.48" height="2.29" fill="#8eb0d7"/><rect x="469.52" y="446.61" width="14.48" height="2.29" fill="#cc6452"/><rect x="483.70" y="446.61" width="14.48" height="2.29" fill="#edae95"/><rect x="497.88" y="446.61" width="14.48" height="2.29" fill="#d5735d"/><rect x="341.90" y="448.60" width="14.48" height="2.29" fill="#d1dbe8"/><rect x="356.08" y="448.60" width="14.48" height="2.29" fill="#eebca8"/><rect x="370.26" y="448.60" width="14.48" height="2.29" fill="#e69b82"/><rect x="384.44" y="448.60" width="14.48" height="2.29" fill="#b5cce7"/><rect x="398.62" y="448.60" width="14.48" height="2.29" fill="#eeb29a"/><rect x="412.80" y="448.60" width="14.48" height="2.29" fill="#edbda9"/><rect x="426.98" y="448.60" width="14.48" height="2.29" fill="#c2d4e8"/><rect x="441.16" y="448.60" width="14.48" height="2.29" fill="#7aa0cd"/><rect x="455.34" y="448.60" width="14.48" height="2.29" fill="#b7cde7"/><rect x="469.52" y="448.60" width="14.48" height="2.29" fill="#dedde3"/><rect x="483.70" y="448.60" width="14.48" height="2.29" fill="#a9c4e3"/><rect x="497.88" y="448.60" width="14.48" height="2.29" fill="#eebda8"/><rect x="341.90" y="450.59" width="14.48" height="2.29" fill="#e0d8d9"/><rect x="356.08" y="450.59" width="14.48" height="2.29" fill="#eba991"/><rect x="370.26" y="450.59" width="14.48" height="2.29" fill="#cc6553"/><rect x="384.44" y="450.59" width="14.48" height="2.29" fill="#bdd1e8"/><rect x="398.62" y="450.59" width="14.48" height="2.29" fill="#ebc3b4"/><rect x="412.80" y="450.59" width="14.48" height="2.29" fill="#f0b8a1"/><rect x="426.98" y="450.59" width="14.48" height="2.29" fill="#c4d4e8"/><rect x="441.16" y="450.59" width="14.48" height="2.29" fill="#8baed5"/><rect x="455.34" y="450.59" width="14.48" height="2.29" fill="#adc7e5"/><rect x="469.52" y="450.59" width="14.48" height="2.29" fill="#cdd9e8"/><rect x="483.70" y="450.59" width="14.48" height="2.29" fill="#bed1e8"/><rect x="497.88" y="450.59" width="14.48" height="2.29" fill="#e5977e"/><rect x="341.90" y="452.59" width="14.48" height="2.29" fill="#dedce0"/><rect x="356.08" y="452.59" width="14.48" height="2.29" fill="#e08970"/><rect x="370.26" y="452.59" width="14.48" height="2.29" fill="#e8c9bf"/><rect x="384.44" y="452.59" width="14.48" height="2.29" fill="#cdd9e8"/><rect x="398.62" y="452.59" width="14.48" height="2.29" fill="#e5967c"/><rect x="412.80" y="452.59" width="14.48" height="2.29" fill="#e5cec6"/><rect x="426.98" y="452.59" width="14.48" height="2.29" fill="#abc6e4"/><rect x="441.16" y="452.59" width="14.48" height="2.29" fill="#b1cae7"/><rect x="455.34" y="452.59" width="14.48" height="2.29" fill="#7ea3cf"/><rect x="469.52" y="452.59" width="14.48" height="2.29" fill="#759bca"/><rect x="483.70" y="452.59" width="14.48" height="2.29" fill="#b3cbe7"/><rect x="497.88" y="452.59" width="14.48" height="2.29" fill="#a4c0e1"/><rect x="341.90" y="454.58" width="14.48" height="2.29" fill="#e0896f"/><rect x="356.08" y="454.58" width="14.48" height="2.29" fill="#eaa78f"/><rect x="370.26" y="454.58" width="14.48" height="2.29" fill="#d4715c"/><rect x="384.44" y="454.58" width="14.48" height="2.29" fill="#e6cdc6"/><rect x="398.62" y="454.58" width="14.48" height="2.29" fill="#da7b63"/><rect x="412.80" y="454.58" width="14.48" height="2.29" fill="#ebaa92"/><rect x="426.98" y="454.58" width="14.48" height="2.29" fill="#b0cae6"/><rect x="441.16" y="454.58" width="14.48" height="2.29" fill="#c2d3e8"/><rect x="455.34" y="454.58" width="14.48" height="2.29" fill="#c0d3e8"/><rect x="469.52" y="454.58" width="14.48" height="2.29" fill="#c4d4e8"/><rect x="483.70" y="454.58" width="14.48" height="2.29" fill="#b3cbe7"/><rect x="497.88" y="454.58" width="14.48" height="2.29" fill="#a8c4e3"/><rect x="341.90" y="456.58" width="14.48" height="2.29" fill="#df866c"/><rect x="356.08" y="456.58" width="14.48" height="2.29" fill="#ecc1b0"/><rect x="370.26" y="456.58" width="14.48" height="2.29" fill="#d97a62"/><rect x="384.44" y="456.58" width="14.48" height="2.29" fill="#e1d7d7"/><rect x="398.62" y="456.58" width="14.48" height="2.29" fill="#db7d65"/><rect x="412.80" y="456.58" width="14.48" height="2.29" fill="#eba890"/><rect x="426.98" y="456.58" width="14.48" height="2.29" fill="#b6cde7"/><rect x="441.16" y="456.58" width="14.48" height="2.29" fill="#a5c1e1"/><rect x="455.34" y="456.58" width="14.48" height="2.29" fill="#aac5e3"/><rect x="469.52" y="456.58" width="14.48" height="2.29" fill="#adc7e5"/><rect x="483.70" y="456.58" width="14.48" height="2.29" fill="#b9cfe7"/><rect x="497.88" y="456.58" width="14.48" height="2.29" fill="#bcd0e7"/><rect x="341.90" y="458.57" width="14.48" height="2.29" fill="#eaa78f"/><rect x="356.08" y="458.57" width="14.48" height="2.29" fill="#ecc0ae"/><rect x="370.26" y="458.57" width="14.48" height="2.29" fill="#f0b8a0"/><rect x="384.44" y="458.57" width="14.48" height="2.29" fill="#e5cfc9"/><rect x="398.62" y="458.57" width="14.48" height="2.29" fill="#d97a62"/><rect x="412.80" y="458.57" width="14.48" height="2.29" fill="#eaa78e"/><rect x="426.98" y="458.57" width="14.48" height="2.29" fill="#7299c9"/><rect x="441.16" y="458.57" width="14.48" height="2.29" fill="#9ebcde"/><rect x="455.34" y="458.57" width="14.48" height="2.29" fill="#7ca2ce"/><rect x="469.52" y="458.57" width="14.48" height="2.29" fill="#bfd2e8"/><rect x="483.70" y="458.57" width="14.48" height="2.29" fill="#e6cdc6"/><rect x="497.88" y="458.57" width="14.48" height="2.29" fill="#acc6e4"/><rect x="341.90" y="460.56" width="14.48" height="2.29" fill="#e6ccc4"/><rect x="356.08" y="460.56" width="14.48" height="2.29" fill="#c9d7e8"/><rect x="370.26" y="460.56" width="14.48" height="2.29" fill="#dae0e9"/><rect x="384.44" y="460.56" width="14.48" height="2.29" fill="#cfdae8"/><rect x="398.62" y="460.56" width="14.48" height="2.29" fill="#eaa78f"/><rect x="412.80" y="460.56" width="14.48" height="2.29" fill="#f0b9a1"/><rect x="426.98" y="460.56" width="14.48" height="2.29" fill="#a0bddf"/><rect x="441.16" y="460.56" width="14.48" height="2.29" fill="#7fa4cf"/><rect x="455.34" y="460.56" width="14.48" height="2.29" fill="#7ba0cd"/><rect x="469.52" y="460.56" width="14.48" height="2.29" fill="#dce1e9"/><rect x="483.70" y="460.56" width="14.48" height="2.29" fill="#dddfe6"/><rect x="497.88" y="460.56" width="14.48" height="2.29" fill="#a4c0e1"/><rect x="341.90" y="462.56" width="14.48" height="2.29" fill="#eaa58c"/><rect x="356.08" y="462.56" width="14.48" height="2.29" fill="#dfdadd"/><rect x="370.26" y="462.56" width="14.48" height="2.29" fill="#e1d6d6"/><rect x="384.44" y="462.56" width="14.48" height="2.29" fill="#e4d1cd"/><rect x="398.62" y="462.56" width="14.48" height="2.29" fill="#eeb29a"/><rect x="412.80" y="462.56" width="14.48" height="2.29" fill="#f0b8a0"/><rect x="426.98" y="462.56" width="14.48" height="2.29" fill="#c9d7e8"/><rect x="441.16" y="462.56" width="14.48" height="2.29" fill="#8dafd6"/><rect x="455.34" y="462.56" width="14.48" height="2.29" fill="#85a9d3"/><rect x="469.52" y="462.56" width="14.48" height="2.29" fill="#e2d4d1"/><rect x="483.70" y="462.56" width="14.48" height="2.29" fill="#d3dce9"/><rect x="497.88" y="462.56" width="14.48" height="2.29" fill="#bbd0e7"/><rect x="341.90" y="464.55" width="14.48" height="2.29" fill="#e5987f"/><rect x="356.08" y="464.55" width="14.48" height="2.29" fill="#e0d8d9"/><rect x="370.26" y="464.55" width="14.48" height="2.29" fill="#e79c83"/><rect x="384.44" y="464.55" width="14.48" height="2.29" fill="#dae0e9"/><rect x="398.62" y="464.55" width="14.48" height="2.29" fill="#ced9e8"/><rect x="412.80" y="464.55" width="14.48" height="2.29" fill="#e3d2ce"/><rect x="426.98" y="464.55" width="14.48" height="2.29" fill="#8daed6"/><rect x="441.16" y="464.55" width="14.48" height="2.29" fill="#9dbbdd"/><rect x="455.34" y="464.55" width="14.48" height="2.29" fill="#89acd4"/><rect x="469.52" y="464.55" width="14.48" height="2.29" fill="#9ebcde"/><rect x="483.70" y="464.55" width="14.48" height="2.29" fill="#92b3d8"/><rect x="497.88" y="464.55" width="14.48" height="2.29" fill="#e0d8d9"/><rect x="341.90" y="466.55" width="14.48" height="2.29" fill="#da7c64"/><rect x="356.08" y="466.55" width="14.48" height="2.29" fill="#ecab93"/><rect x="370.26" y="466.55" width="14.48" height="2.29" fill="#e69a81"/><rect x="384.44" y="466.55" width="14.48" height="2.29" fill="#d9dfe9"/><rect x="398.62" y="466.55" width="14.48" height="2.29" fill="#d2dce9"/><rect x="412.80" y="466.55" width="14.48" height="2.29" fill="#efb49c"/><rect x="426.98" y="466.55" width="14.48" height="2.29" fill="#81a5d0"/><rect x="441.16" y="466.55" width="14.48" height="2.29" fill="#9ebcde"/><rect x="455.34" y="466.55" width="14.48" height="2.29" fill="#81a6d1"/><rect x="469.52" y="466.55" width="14.48" height="2.29" fill="#b7cee7"/><rect x="483.70" y="466.55" width="14.48" height="2.29" fill="#aac5e3"/><rect x="497.88" y="466.55" width="14.48" height="2.29" fill="#dddee4"/><rect x="341.90" y="468.54" width="14.48" height="2.29" fill="#e0896f"/><rect x="356.08" y="468.54" width="14.48" height="2.29" fill="#de8369"/><rect x="370.26" y="468.54" width="14.48" height="2.29" fill="#efbba5"/><rect x="384.44" y="468.54" width="14.48" height="2.29" fill="#bcd0e7"/><rect x="398.62" y="468.54" width="14.48" height="2.29" fill="#dfdbde"/><rect x="412.80" y="468.54" width="14.48" height="2.29" fill="#eeb299"/><rect x="426.98" y="468.54" width="14.48" height="2.29" fill="#b6cde7"/><rect x="441.16" y="468.54" width="14.48" height="2.29" fill="#afc9e6"/><rect x="455.34" y="468.54" width="14.48" height="2.29" fill="#9ebcde"/><rect x="469.52" y="468.54" width="14.48" height="2.29" fill="#e0dadc"/><rect x="483.70" y="468.54" width="14.48" height="2.29" fill="#c1d3e8"/><rect x="497.88" y="468.54" width="14.48" height="2.29" fill="#dae0e9"/><rect x="341.90" y="470.53" width="14.48" height="2.29" fill="#df856b"/><rect x="356.08" y="470.53" width="14.48" height="2.29" fill="#d6745e"/><rect x="370.26" y="470.53" width="14.48" height="2.29" fill="#dd8167"/><rect x="384.44" y="470.53" width="14.48" height="2.29" fill="#eac5b7"/><rect x="398.62" y="470.53" width="14.48" height="2.29" fill="#eebca7"/><rect x="412.80" y="470.53" width="14.48" height="2.29" fill="#d1dbe8"/><rect x="426.98" y="470.53" width="14.48" height="2.29" fill="#adc7e5"/><rect x="441.16" y="470.53" width="14.48" height="2.29" fill="#799fcd"/><rect x="455.34" y="470.53" width="14.48" height="2.29" fill="#a5c1e1"/><rect x="469.52" y="470.53" width="14.48" height="2.29" fill="#c1d3e8"/><rect x="483.70" y="470.53" width="14.48" height="2.29" fill="#bcd0e7"/><rect x="497.88" y="470.53" width="14.48" height="2.29" fill="#7299c9"/><rect x="341.90" y="472.53" width="14.48" height="2.29" fill="#e4947a"/><rect x="356.08" y="472.53" width="14.48" height="2.29" fill="#e4937a"/><rect x="370.26" y="472.53" width="14.48" height="2.29" fill="#e9a289"/><rect x="384.44" y="472.53" width="14.48" height="2.29" fill="#efb69e"/><rect x="398.62" y="472.53" width="14.48" height="2.29" fill="#e3d3cf"/><rect x="412.80" y="472.53" width="14.48" height="2.29" fill="#dbe1e9"/><rect x="426.98" y="472.53" width="14.48" height="2.29" fill="#b1cae7"/><rect x="441.16" y="472.53" width="14.48" height="2.29" fill="#799fcc"/><rect x="455.34" y="472.53" width="14.48" height="2.29" fill="#a0bddf"/><rect x="469.52" y="472.53" width="14.48" height="2.29" fill="#a9c4e3"/><rect x="483.70" y="472.53" width="14.48" height="2.29" fill="#aac5e3"/><rect x="497.88" y="472.53" width="14.48" height="2.29" fill="#6891c4"/><rect x="341.90" y="474.52" width="14.48" height="2.29" fill="#e0896f"/><rect x="356.08" y="474.52" width="14.48" height="2.29" fill="#e39279"/><rect x="370.26" y="474.52" width="14.48" height="2.29" fill="#e8c8bc"/><rect x="384.44" y="474.52" width="14.48" height="2.29" fill="#c5d5e8"/><rect x="398.62" y="474.52" width="14.48" height="2.29" fill="#e7cbc1"/><rect x="412.80" y="474.52" width="14.48" height="2.29" fill="#e7cbc3"/><rect x="426.98" y="474.52" width="14.48" height="2.29" fill="#c7d6e8"/><rect x="441.16" y="474.52" width="14.48" height="2.29" fill="#96b6da"/><rect x="455.34" y="474.52" width="14.48" height="2.29" fill="#b8cee7"/><rect x="469.52" y="474.52" width="14.48" height="2.29" fill="#acc6e4"/><rect x="483.70" y="474.52" width="14.48" height="2.29" fill="#a8c4e3"/><rect x="497.88" y="474.52" width="14.48" height="2.29" fill="#7ca2ce"/><rect x="341.90" y="476.52" width="14.48" height="2.29" fill="#d3705b"/><rect x="356.08" y="476.52" width="14.48" height="2.29" fill="#dc7f66"/><rect x="370.26" y="476.52" width="14.48" height="2.29" fill="#eebca6"/><rect x="384.44" y="476.52" width="14.48" height="2.29" fill="#d7dfe9"/><rect x="398.62" y="476.52" width="14.48" height="2.29" fill="#f0b9a2"/><rect x="412.80" y="476.52" width="14.48" height="2.29" fill="#e8c8bc"/><rect x="426.98" y="476.52" width="14.48" height="2.29" fill="#aac5e4"/><rect x="441.16" y="476.52" width="14.48" height="2.29" fill="#a7c2e2"/><rect x="455.34" y="476.52" width="14.48" height="2.29" fill="#b6cde7"/><rect x="469.52" y="476.52" width="14.48" height="2.29" fill="#b6cde7"/><rect x="483.70" y="476.52" width="14.48" height="2.29" fill="#97b6db"/><rect x="497.88" y="476.52" width="14.48" height="2.29" fill="#7fa4d0"/><rect x="341.90" y="478.51" width="14.48" height="2.29" fill="#c45749"/><rect x="356.08" y="478.51" width="14.48" height="2.29" fill="#eebca8"/><rect x="370.26" y="478.51" width="14.48" height="2.29" fill="#cf6956"/><rect x="384.44" y="478.51" width="14.48" height="2.29" fill="#e0dadc"/><rect x="398.62" y="478.51" width="14.48" height="2.29" fill="#dedde2"/><rect x="412.80" y="478.51" width="14.48" height="2.29" fill="#eebda8"/><rect x="426.98" y="478.51" width="14.48" height="2.29" fill="#bdd1e8"/><rect x="441.16" y="478.51" width="14.48" height="2.29" fill="#87aad3"/><rect x="455.34" y="478.51" width="14.48" height="2.29" fill="#bed1e8"/><rect x="469.52" y="478.51" width="14.48" height="2.29" fill="#e3d3d1"/><rect x="483.70" y="478.51" width="14.48" height="2.29" fill="#c3d4e8"/><rect x="497.88" y="478.51" width="14.48" height="2.29" fill="#b7cee7"/><rect x="341.90" y="480.50" width="14.48" height="2.29" fill="#c35548"/><rect x="356.08" y="480.50" width="14.48" height="2.29" fill="#edbeaa"/><rect x="370.26" y="480.50" width="14.48" height="2.29" fill="#df856b"/><rect x="384.44" y="480.50" width="14.48" height="2.29" fill="#d1dbe8"/><rect x="398.62" y="480.50" width="14.48" height="2.29" fill="#d5dde9"/><rect x="412.80" y="480.50" width="14.48" height="2.29" fill="#ebc3b4"/><rect x="426.98" y="480.50" width="14.48" height="2.29" fill="#a6c2e1"/><rect x="441.16" y="480.50" width="14.48" height="2.29" fill="#82a6d1"/><rect x="455.34" y="480.50" width="14.48" height="2.29" fill="#bbd0e7"/><rect x="469.52" y="480.50" width="14.48" height="2.29" fill="#d1dbe8"/><rect x="483.70" y="480.50" width="14.48" height="2.29" fill="#b4cce7"/><rect x="497.88" y="480.50" width="14.48" height="2.29" fill="#b1cbe7"/><rect x="341.90" y="482.50" width="14.48" height="2.29" fill="#ecac94"/><rect x="356.08" y="482.50" width="14.48" height="2.29" fill="#edbda9"/><rect x="370.26" y="482.50" width="14.48" height="2.29" fill="#edae96"/><rect x="384.44" y="482.50" width="14.48" height="2.29" fill="#dedde1"/><rect x="398.62" y="482.50" width="14.48" height="2.29" fill="#dddee4"/><rect x="412.80" y="482.50" width="14.48" height="2.29" fill="#dedce0"/><rect x="426.98" y="482.50" width="14.48" height="2.29" fill="#bacfe7"/><rect x="441.16" y="482.50" width="14.48" height="2.29" fill="#9ebcde"/><rect x="455.34" y="482.50" width="14.48" height="2.29" fill="#7ba0cd"/><rect x="469.52" y="482.50" width="14.48" height="2.29" fill="#efb59d"/><rect x="483.70" y="482.50" width="14.48" height="2.29" fill="#b7cee7"/><rect x="497.88" y="482.50" width="14.48" height="2.29" fill="#a7c3e2"/><rect x="341.90" y="484.49" width="14.48" height="2.29" fill="#e9a38a"/><rect x="356.08" y="484.49" width="14.48" height="2.29" fill="#efb69e"/><rect x="370.26" y="484.49" width="14.48" height="2.29" fill="#efbba5"/><rect x="384.44" y="484.49" width="14.48" height="2.29" fill="#dfdbde"/><rect x="398.62" y="484.49" width="14.48" height="2.29" fill="#e0876d"/><rect x="412.80" y="484.49" width="14.48" height="2.29" fill="#edbeab"/><rect x="426.98" y="484.49" width="14.48" height="2.29" fill="#9fbcde"/><rect x="441.16" y="484.49" width="14.48" height="2.29" fill="#7ba1ce"/><rect x="455.34" y="484.49" width="14.48" height="2.29" fill="#98b8db"/><rect x="469.52" y="484.49" width="14.48" height="2.29" fill="#ecab93"/><rect x="483.70" y="484.49" width="14.48" height="2.29" fill="#b6cde7"/><rect x="497.88" y="484.49" width="14.48" height="2.29" fill="#c4d4e8"/><rect x="341.90" y="486.49" width="14.48" height="2.29" fill="#eeb29a"/><rect x="356.08" y="486.49" width="14.48" height="2.29" fill="#eeb39b"/><rect x="370.26" y="486.49" width="14.48" height="2.29" fill="#e39177"/><rect x="384.44" y="486.49" width="14.48" height="2.29" fill="#e9a38a"/><rect x="398.62" y="486.49" width="14.48" height="2.29" fill="#d8dfe9"/><rect x="412.80" y="486.49" width="14.48" height="2.29" fill="#e3d3d1"/><rect x="426.98" y="486.49" width="14.48" height="2.29" fill="#bbd0e7"/><rect x="441.16" y="486.49" width="14.48" height="2.29" fill="#b3cce7"/><rect x="455.34" y="486.49" width="14.48" height="2.29" fill="#b5cce7"/><rect x="469.52" y="486.49" width="14.48" height="2.29" fill="#f0b79f"/><rect x="483.70" y="486.49" width="14.48" height="2.29" fill="#9cbadd"/><rect x="497.88" y="486.49" width="14.48" height="2.29" fill="#afc9e6"/></g>
<path d="M325.26,269.71H323.70V279.02H332.60 M323.70,274.36H323.10V292.69H326.91 M327.03,257.16H322.50V283.53H323.10 M322.50,257.16V284.00 M331.95,307.05H323.60V326.98H324.20 M328.51,343.51H323.60V349.31H332.69 M323.60,317.02H323.00V346.41H323.60 M323.00,317.02V346.41 M322.50,284.00H318.10V330.00H323.00 M318.10,319.30H316.10V353.50H324.00 M318.1,319.3V319.3 M334.56,356.10H322.00V359.24H339.60 M322.00,356.10V359.24 M316.10,336.40H310.30V357.50H322.00 M339.60,360.25H321.00V368.29H329.20 M321.00,360.25V368.29 M327.14,383.79H322.70V406.52H339.60 M322.70,395.15H322.10V408.41H332.40 M325.73,379.13H321.50V401.78H322.10 M321.50,379.13V401.78 M321.00,366.00H317.00V395.00H321.50 M332.36,413.06H321.28V424.25H329.59 M328.22,454.73H321.20V462.01H331.41 M328.83,434.24H320.60V458.37H321.20 M321.28,418.66H320.00V446.31H320.60 M320.00,418.66V446.31 M333.28,473.41H323.13V481.78H327.98 M333.97,470.40H322.00V477.60H323.13 M322.00,470.40V478.00 M320.00,445.00H318.50V478.00H322.00 M317.00,386.60H311.60V468.00H318.50 M310.30,347.00H272.50V432.40H311.60" stroke="#222" stroke-width="0.7" fill="none"/>
<path d="M339.60,252.62H337.24V253.62H339.60 M337.24,253.12H336.64V254.63H339.60 M336.64,253.88H336.04V255.64H339.60 M339.60,251.61H335.44V254.76H336.04 M335.44,253.18H334.84V256.64H339.60 M339.60,250.61H334.24V254.91H334.84 M339.60,249.60H333.64V252.76H334.24 M339.60,257.65H333.64V258.65H339.60 M333.64,251.18H327.63V258.15H333.64 M327.63,254.66H327.03V259.66H339.60 M339.60,265.69H335.98V266.70H339.60 M339.60,264.69H335.38V266.20H335.98 M335.38,265.44H334.78V267.71H339.60 M339.60,263.68H334.18V266.57H334.78 M339.60,262.68H333.58V265.13H334.18 M339.60,268.71H334.94V269.72H339.60 M333.58,263.90H331.89V269.22H334.94 M339.60,271.73H336.01V272.74H339.60 M339.60,270.72H335.41V272.23H336.01 M331.89,266.56H331.29V271.48H335.41 M339.60,273.74H335.64V274.75H339.60 M331.29,269.02H330.69V274.24H335.64 M339.60,261.67H327.37V271.63H330.69 M339.60,260.66H325.86V266.65H327.37 M325.86,263.66H325.26V275.75H339.60 M339.60,277.77H334.71V278.77H339.60 M339.60,276.76H334.11V278.27H334.71 M339.60,280.78H334.63V281.79H339.60 M339.60,279.78H333.20V281.29H334.63 M334.11,277.51H332.60V280.53H333.20 M339.60,283.80H333.32V284.81H339.60 M339.60,282.79H332.58V284.30H333.32 M339.60,287.82H336.48V288.83H339.60 M339.60,292.85H336.68V293.86H339.60 M336.68,293.36H336.08V294.87H339.60 M336.08,294.11H335.48V295.87H339.60 M335.48,294.99H334.88V296.88H339.60 M339.60,291.85H334.28V295.93H334.88 M339.60,290.84H333.68V293.89H334.28 M339.60,289.84H333.08V292.37H333.68 M336.48,288.33H332.48V291.10H333.08 M339.60,286.82H331.88V289.71H332.48 M331.88,288.27H331.28V297.88H339.60 M339.60,285.81H330.68V293.08H331.28 M332.58,283.55H327.51V289.44H330.68 M327.51,286.50H326.91V298.89H339.60 M339.60,301.91H335.59V302.91H339.60 M339.60,300.90H334.99V302.41H335.59 M334.99,301.66H334.39V303.92H339.60 M339.60,299.90H333.75V302.79H334.39 M333.75,301.34H333.15V304.92H339.60 M339.60,305.93H334.66V306.94H339.60 M334.66,306.43H334.06V307.94H339.60 M333.15,303.13H332.55V307.19H334.06 M332.55,305.16H331.95V308.95H339.60 M339.60,310.96H335.59V311.97H339.60 M339.60,313.98H336.03V314.98H339.60 M339.60,312.97H335.43V314.48H336.03 M335.43,313.73H334.83V315.99H339.60 M334.83,314.86H332.57V317.00H339.60 M339.60,318.00H335.31V319.01H339.60 M332.57,315.93H331.97V318.50H335.31 M339.60,321.02H336.87V322.03H339.60 M339.60,320.01H336.27V321.52H336.87 M336.27,320.77H335.67V323.03H339.60 M335.67,321.90H335.07V324.04H339.60 M335.07,322.97H334.47V325.04H339.60 M339.60,327.05H336.36V328.06H339.60 M336.36,327.56H333.73V329.07H339.60 M339.60,326.05H333.13V328.31H333.73 M334.47,324.01H332.53V327.18H333.13 M331.97,317.22H328.78V325.59H332.53 M335.59,311.46H326.00V321.40H328.78 M339.60,309.95H325.40V316.43H326.00 M339.60,330.07H335.99V331.08H339.60 M325.40,313.19H324.80V330.58H335.99 M324.80,321.88H324.20V332.08H339.60 M339.60,334.10H335.23V335.10H339.60 M339.60,338.12H336.01V339.13H339.60 M339.60,337.11H335.41V338.62H336.01 M335.41,337.87H334.81V340.13H339.60 M339.60,341.14H334.81V342.14H339.60 M334.81,339.00H334.21V341.64H334.81 M339.60,336.11H333.61V340.32H334.21 M335.23,334.60H332.67V338.21H333.61 M339.60,343.15H333.89V344.16H339.60 M332.67,336.41H332.07V343.65H333.89 M339.60,333.09H329.71V340.03H332.07 M329.71,336.56H329.11V345.16H339.60 M329.11,340.86H328.51V346.17H339.60 M339.60,347.17H333.89V348.18H339.60 M333.89,347.68H333.29V349.18H339.60 M333.29,348.43H332.69V350.19H339.60 M339.60,353.21H335.39V354.21H339.60 M339.60,352.20H334.41V353.71H335.39 M339.60,351.20H324.00V352.96H334.41 M324.00,351.20V353.50 M339.60,357.23H335.76V358.24H339.60 M339.60,356.23H335.16V357.74H335.76 M339.60,355.22H334.56V356.98H335.16 M339.60,361.26H333.86V362.26H339.60 M339.60,365.28H336.49V366.29H339.60 M339.60,364.27H335.89V365.78H336.49 M339.60,363.27H335.29V365.03H335.89 M335.29,364.15H333.85V367.29H339.60 M339.60,368.30H335.77V369.30H339.60 M333.85,365.72H331.66V368.80H335.77 M331.66,367.26H331.06V370.31H339.60 M333.86,361.76H329.80V368.78H331.06 M329.80,365.27H329.20V371.31H339.60 M339.60,376.34H336.55V377.35H339.60 M336.55,376.85H335.95V378.36H339.60 M335.95,377.60H335.35V379.36H339.60 M339.60,375.34H334.75V378.48H335.35 M339.60,374.33H333.94V376.91H334.75 M339.60,373.33H333.34V375.62H333.94 M339.60,372.32H332.74V374.47H333.34 M332.74,373.40H332.14V380.37H339.60 M332.14,376.88H325.73V381.37H339.60 M339.60,391.43H337.06V392.44H339.60 M339.60,390.43H336.46V391.94H337.06 M339.60,389.42H335.86V391.18H336.46 M335.86,390.30H335.26V393.44H339.60 M339.60,388.42H334.66V391.87H335.26 M334.66,390.14H334.06V394.45H339.60 M339.60,398.47H336.57V399.48H339.60 M339.60,397.47H335.97V398.98H336.57 M339.60,396.46H335.37V398.22H335.97 M339.60,395.46H334.77V397.34H335.37 M334.06,392.30H331.94V396.40H334.77 M339.60,387.41H331.34V394.35H331.94 M339.60,402.50H336.53V403.50H339.60 M339.60,401.49H335.31V403.00H336.53 M339.60,400.49H334.62V402.25H335.31 M334.62,401.37H331.73V404.51H339.60 M331.34,390.88H330.74V402.94H331.73 M330.74,396.91H330.14V405.52H339.60 M339.60,386.40H329.54V401.21H330.14 M339.60,385.40H328.94V393.81H329.54 M339.60,384.39H328.34V389.60H328.94 M339.60,383.39H327.74V387.00H328.34 M339.60,382.38H327.14V385.19H327.74 M339.60,409.54H334.58V410.55H339.60 M339.60,408.53H333.05V410.04H334.58 M339.60,407.53H332.40V409.29H333.05 M339.60,411.55H333.19V412.56H339.60 M339.60,413.56H336.06V414.57H339.60 M333.19,412.05H332.36V414.07H336.06 M339.60,416.58H336.73V417.59H339.60 M336.73,417.08H336.13V418.59H339.60 M336.13,417.84H335.53V419.60H339.60 M339.60,415.57H333.49V418.72H335.53 M333.49,417.15H331.39V420.60H339.60 M331.39,418.88H330.79V421.61H339.60 M339.60,424.63H334.90V425.63H339.60 M339.60,423.62H334.30V425.13H334.90 M339.60,422.62H333.70V424.38H334.30 M330.79,420.24H330.19V423.50H333.70 M330.19,421.87H329.59V426.64H339.60 M339.60,431.67H336.34V432.68H339.60 M339.60,430.66H335.74V432.17H336.34 M339.60,429.66H335.14V431.42H335.74 M339.60,428.65H334.54V430.54H335.14 M334.54,429.59H333.61V433.68H339.60 M333.61,431.64H333.01V434.69H339.60 M333.01,433.16H331.27V435.69H339.60 M339.60,427.65H329.43V434.43H331.27 M339.60,437.70H336.33V438.71H339.60 M339.60,436.70H335.73V438.21H336.33 M329.43,431.04H328.83V437.45H335.73 M339.60,445.75H337.22V446.76H339.60 M337.22,446.25H336.62V447.76H339.60 M336.62,447.01H336.02V448.77H339.60 M339.60,444.75H335.42V447.89H336.02 M335.42,446.32H334.82V449.78H339.60 M339.60,443.74H334.22V448.05H334.82 M339.60,442.73H333.62V445.89H334.22 M333.62,444.31H333.02V450.78H339.60 M339.60,441.73H332.42V447.55H333.02 M339.60,440.72H331.82V444.64H332.42 M331.82,442.68H331.22V451.79H339.60 M339.60,452.79H335.75V453.80H339.60 M335.75,453.30H332.99V454.81H339.60 M331.22,447.23H330.62V454.05H332.99 M330.62,450.64H330.02V455.81H339.60 M339.60,439.72H329.42V453.23H330.02 M329.42,446.47H328.82V456.82H339.60 M328.82,451.64H328.22V457.82H339.60 M339.60,462.85H335.61V463.86H339.60 M335.61,463.36H335.01V464.86H339.60 M339.60,461.85H334.41V464.11H335.01 M339.60,460.84H333.81V462.98H334.41 M339.60,465.87H335.34V466.88H339.60 M333.81,461.91H333.21V466.37H335.34 M339.60,459.83H332.61V464.14H333.21 M339.60,467.88H334.29V468.89H339.60 M332.61,461.99H332.01V468.38H334.29 M339.60,458.83H331.41V465.19H332.01 M339.60,469.89H333.97V470.90H339.60 M339.60,471.91H335.27V472.91H339.60 M339.60,473.92H336.06V474.92H339.60 M335.27,472.41H333.28V474.42H336.06 M339.60,479.95H336.49V480.96H339.60 M336.49,480.46H335.89V481.96H339.60 M339.60,478.95H335.29V481.21H335.89 M339.60,477.94H334.69V480.08H335.29 M334.69,479.01H334.09V482.97H339.60 M334.09,480.99H333.48V483.98H339.60 M339.60,476.94H332.88V482.48H333.48 M339.60,475.93H328.58V479.71H332.88 M339.60,485.99H335.70V486.99H339.60 M339.60,484.98H332.81V486.49H335.70 M328.58,477.82H327.98V485.74H332.81" stroke="#000" stroke-width="0.85" fill="none"/>
<rect x="0" y="0" width="520" height="1.3" fill="#000"/>
<rect x="0" y="0" width="1.3" height="497" fill="#000"/>
<rect x="518" y="0" width="2" height="497" fill="#000"/>
<rect x="0" y="495" width="520" height="2" fill="#000"/>
</svg>
</body></html>
